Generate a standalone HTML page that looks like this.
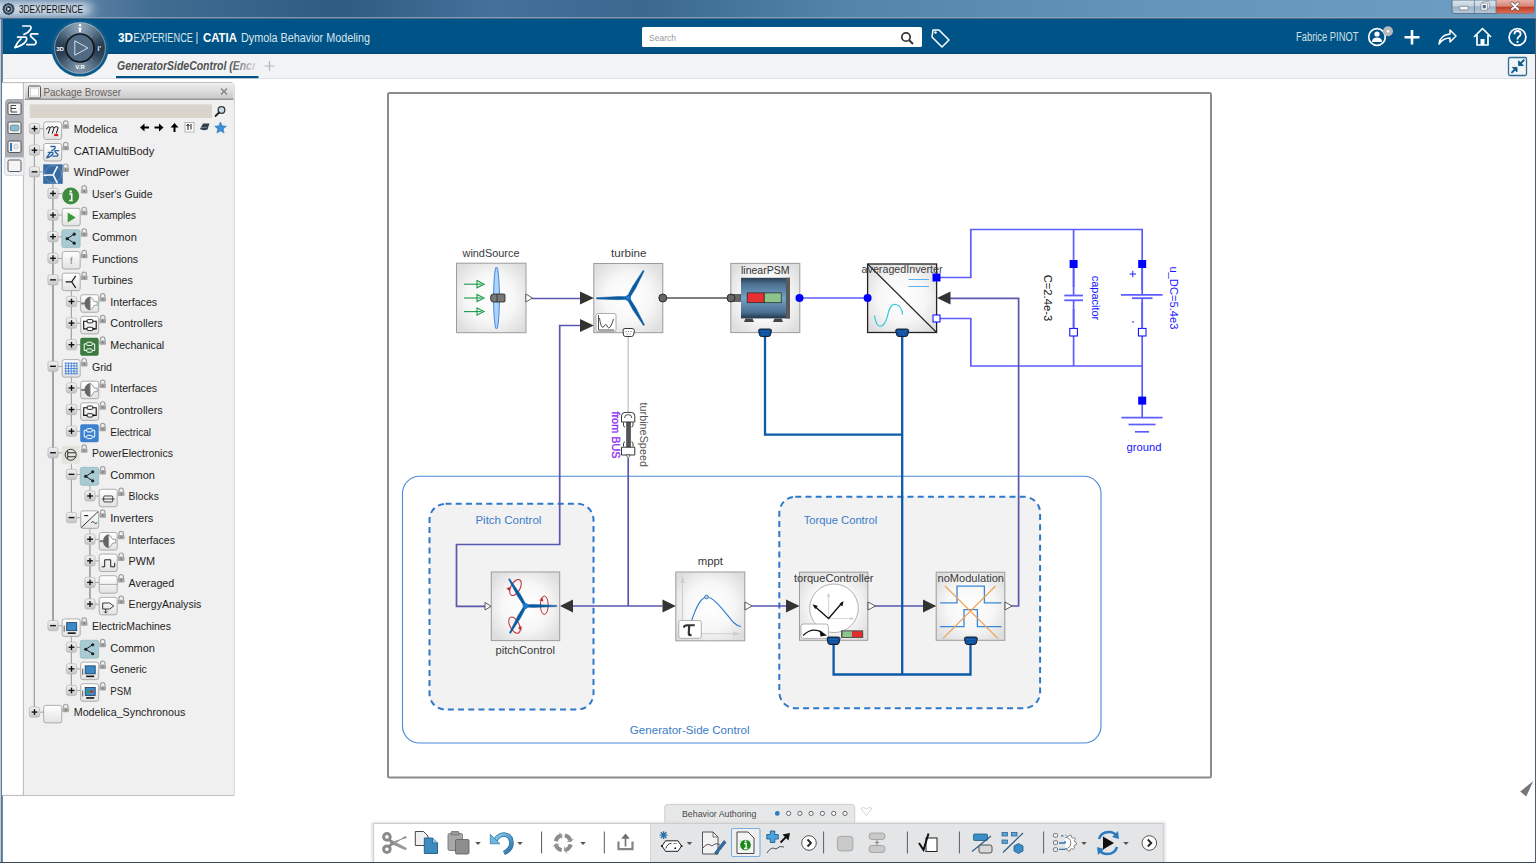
<!DOCTYPE html>
<html><head><meta charset="utf-8"><title>3DEXPERIENCE</title>
<style>html,body{margin:0;padding:0;width:1536px;height:863px;overflow:hidden;background:#fff}svg{display:block}</style></head>
<body><svg width="1536" height="863" viewBox="0 0 1536 863">
<defs>
<linearGradient id="gTitle" x1="0" y1="0" x2="1" y2="0">
 <stop offset="0" stop-color="#7896b4"/>
 <stop offset="0.05" stop-color="#5e82a6"/>
 <stop offset="0.1" stop-color="#416c92"/>
 <stop offset="0.22" stop-color="#2f5b82"/>
 <stop offset="0.32" stop-color="#44709a"/>
 <stop offset="0.42" stop-color="#3a688f"/>
 <stop offset="0.55" stop-color="#5584ab"/>
 <stop offset="0.75" stop-color="#6594bb"/>
 <stop offset="1" stop-color="#6d9ec4"/>
</linearGradient>
<linearGradient id="gPBHead" x1="0" y1="0" x2="0" y2="1">
 <stop offset="0" stop-color="#ececec"/><stop offset="1" stop-color="#c9c9c9"/>
</linearGradient>
<linearGradient id="gPlus" x1="0" y1="0" x2="0" y2="1">
 <stop offset="0" stop-color="#f4f4f4"/><stop offset="1" stop-color="#c4c4c4"/>
</linearGradient>
<linearGradient id="gIcon" x1="0" y1="0" x2="0" y2="1">
 <stop offset="0" stop-color="#ffffff"/><stop offset="1" stop-color="#e2e2e2"/>
</linearGradient>
<radialGradient id="gComp" cx="0.5" cy="0.5" r="0.5">
 <stop offset="0" stop-color="#ffffff"/><stop offset="0.7" stop-color="#f6f6f6"/><stop offset="1" stop-color="#e3e3e3"/>
</radialGradient>
<radialGradient id="gCompass" cx="0.4" cy="0.3" r="0.7">
 <stop offset="0" stop-color="#aabdd0"/><stop offset="0.5" stop-color="#4d6781"/><stop offset="1" stop-color="#1e3248"/>
</radialGradient>
<linearGradient id="gMotor" x1="0" y1="0" x2="0" y2="1">
 <stop offset="0" stop-color="#2a3e52"/><stop offset="0.15" stop-color="#4a6f90"/><stop offset="0.5" stop-color="#74a3c8"/><stop offset="0.85" stop-color="#4a6f90"/><stop offset="1" stop-color="#22364a"/>
</linearGradient>
</defs>
<rect x="0" y="0" width="1536" height="863" fill="#ffffff"/>
<rect x="0" y="0" width="1536" height="19" fill="url(#gTitle)"/>
<defs><filter id="fBlur4" x="-50%" y="-100%" width="200%" height="300%"><feGaussianBlur stdDeviation="6 3"/></filter></defs>
<rect x="-10" y="2" width="100" height="14" fill="#c8d6e4" filter="url(#fBlur4)"/>
<rect x="0" y="17" width="1536" height="1" fill="#8fa8bf" opacity="0.8"/>
<rect x="0" y="18" width="1536" height="1" fill="#4d6b86"/>
<circle cx="8.5" cy="9" r="6.2" fill="#33475c" stroke="#c8d6e2" stroke-width="0.8" stroke-dasharray="2 1.2"/><circle cx="8.5" cy="9" r="3.4" fill="#1c2a38" stroke="#e0e8ee" stroke-width="0.7"/><path d="M7.4 7.2 L10.4 9 L7.4 10.8 Z" fill="#e8eef4"/>
<text x="19" y="13" font-family='"Liberation Sans", sans-serif' font-size="10.5" fill="#111" textLength="64" lengthAdjust="spacingAndGlyphs">3DEXPERIENCE</text>
<defs><linearGradient id="gWB" x1="0" y1="0" x2="0" y2="1"><stop offset="0" stop-color="#dbe6ef"/><stop offset="0.45" stop-color="#c4d3e0"/><stop offset="0.5" stop-color="#9db2c6"/><stop offset="1" stop-color="#b9cad9"/></linearGradient><linearGradient id="gWC" x1="0" y1="0" x2="0" y2="1"><stop offset="0" stop-color="#eab0a8"/><stop offset="0.45" stop-color="#d8877a"/><stop offset="0.55" stop-color="#c23e28"/><stop offset="1" stop-color="#d8705a"/></linearGradient></defs>
<path d="M1452 0 V11 Q1452 13.5 1454.5 13.5 H1531.5 Q1534 13.5 1534 11 V0 Z" fill="url(#gWB)" stroke="#4e6378" stroke-width="0.8"/>
<path d="M1496 0 V13.5 H1531.5 Q1534 13.5 1534 11 V0 Z" fill="url(#gWC)"/>
<path d="M1474.4 0 V13.5 M1496 0 V13.5" stroke="#5a6e82" stroke-width="0.7"/>
<rect x="1459.6" y="6.3" width="8.6" height="3.6" rx="1" fill="#fafafa" stroke="#4a5a6a" stroke-width="0.6"/>
<rect x="1483" y="1.7" width="6.2" height="6.5" rx="0.6" fill="#fafafa" stroke="#4a5a6a" stroke-width="0.5"/><rect x="1481" y="3.2" width="6.5" height="7" rx="0.6" fill="#fafafa" stroke="#4a5a6a" stroke-width="0.5"/><rect x="1482.7" y="5" width="3.2" height="3.3" fill="#5a7088"/>
<path d="M1512 3.2 L1518 9.2 M1518 3.2 L1512 9.2" stroke="#555" stroke-width="3.2" stroke-linecap="round"/><path d="M1512 3.2 L1518 9.2 M1518 3.2 L1512 9.2" stroke="#fafafa" stroke-width="2" stroke-linecap="round"/>
<rect x="2" y="19" width="1533" height="35" fill="#005386"/>
<rect x="2" y="52.6" width="1533" height="1.4" fill="#004a78"/>
<rect x="2" y="54" width="1533" height="24.5" fill="#f2f3f5"/>
<rect x="2" y="78" width="1533" height="1" fill="#dfe1e4"/>
<rect x="0" y="19" width="1" height="844" fill="#b9cadb"/>
<rect x="1" y="19" width="1.9" height="844" fill="#5f7a93"/>
<rect x="1535" y="19" width="1" height="844" fill="#4b5d6e"/>
<rect x="0" y="862" width="1536" height="1" fill="#3b4957"/>
<g fill="none" stroke="#fff" stroke-width="1.7" stroke-linecap="round" stroke-linejoin="round"><path d="M22.8 26 H29.8 Q31.8 26.6 30.6 29.2 Q28.6 32.6 24 34.4" /><path d="M17.6 37.2 H25.2 Q27.6 37.6 26.2 40.8 Q23.4 45.6 14.8 47.6 Q17.2 42.2 21 38.9"/><path d="M37.8 33.9 H31.6 Q29.8 34.4 31 36.6 L35.4 40.6 Q37.2 43.2 34.6 44.6 H26.8"/></g>
<circle cx="80" cy="48" r="28.6" fill="#0e5a8b"/>
<defs><filter id="fCmp"><feGaussianBlur stdDeviation="0.9"/></filter><clipPath id="cRing"><circle cx="80" cy="48" r="25.6"/></clipPath></defs>
<g clip-path="url(#cRing)"><g filter="url(#fCmp)"><path d="M80 48 L80.00 21.00 L83.52 21.23 Z" fill="rgb(144, 163, 181)"/><path d="M80 48 L83.52 21.23 L86.99 21.92 Z" fill="rgb(141, 159, 177)"/><path d="M80 48 L86.99 21.92 L90.33 23.06 Z" fill="rgb(134, 153, 171)"/><path d="M80 48 L90.33 23.06 L93.50 24.62 Z" fill="rgb(125, 144, 162)"/><path d="M80 48 L93.50 24.62 L96.44 26.58 Z" fill="rgb(113, 132, 151)"/><path d="M80 48 L96.44 26.58 L99.09 28.91 Z" fill="rgb(101, 120, 139)"/><path d="M80 48 L99.09 28.91 L101.42 31.56 Z" fill="rgb(87, 106, 126)"/><path d="M80 48 L101.42 31.56 L103.38 34.50 Z" fill="rgb(74, 94, 114)"/><path d="M80 48 L103.38 34.50 L104.94 37.67 Z" fill="rgb(62, 82, 102)"/><path d="M80 48 L104.94 37.67 L106.08 41.01 Z" fill="rgb(52, 72, 93)"/><path d="M80 48 L106.08 41.01 L106.77 44.48 Z" fill="rgb(45, 64, 86)"/><path d="M80 48 L106.77 44.48 L107.00 48.00 Z" fill="rgb(40, 60, 82)"/><path d="M80 48 L107.00 48.00 L106.77 51.52 Z" fill="rgb(39, 59, 80)"/><path d="M80 48 L106.77 51.52 L106.08 54.99 Z" fill="rgb(41, 61, 82)"/><path d="M80 48 L106.08 54.99 L104.94 58.33 Z" fill="rgb(46, 66, 87)"/><path d="M80 48 L104.94 58.33 L103.38 61.50 Z" fill="rgb(54, 73, 94)"/><path d="M80 48 L103.38 61.50 L101.42 64.44 Z" fill="rgb(63, 83, 104)"/><path d="M80 48 L101.42 64.44 L99.09 67.09 Z" fill="rgb(75, 94, 114)"/><path d="M80 48 L99.09 67.09 L96.44 69.42 Z" fill="rgb(86, 105, 125)"/><path d="M80 48 L96.44 69.42 L93.50 71.38 Z" fill="rgb(97, 117, 136)"/><path d="M80 48 L93.50 71.38 L90.33 72.94 Z" fill="rgb(108, 127, 146)"/><path d="M80 48 L90.33 72.94 L86.99 74.08 Z" fill="rgb(116, 135, 154)"/><path d="M80 48 L86.99 74.08 L83.52 74.77 Z" fill="rgb(122, 141, 159)"/><path d="M80 48 L83.52 74.77 L80.00 75.00 Z" fill="rgb(125, 144, 162)"/><path d="M80 48 L80.00 75.00 L76.48 74.77 Z" fill="rgb(125, 144, 162)"/><path d="M80 48 L76.48 74.77 L73.01 74.08 Z" fill="rgb(122, 141, 159)"/><path d="M80 48 L73.01 74.08 L69.67 72.94 Z" fill="rgb(116, 135, 154)"/><path d="M80 48 L69.67 72.94 L66.50 71.38 Z" fill="rgb(108, 127, 146)"/><path d="M80 48 L66.50 71.38 L63.56 69.42 Z" fill="rgb(97, 117, 136)"/><path d="M80 48 L63.56 69.42 L60.91 67.09 Z" fill="rgb(86, 105, 125)"/><path d="M80 48 L60.91 67.09 L58.58 64.44 Z" fill="rgb(75, 94, 114)"/><path d="M80 48 L58.58 64.44 L56.62 61.50 Z" fill="rgb(63, 83, 104)"/><path d="M80 48 L56.62 61.50 L55.06 58.33 Z" fill="rgb(54, 73, 94)"/><path d="M80 48 L55.06 58.33 L53.92 54.99 Z" fill="rgb(46, 66, 87)"/><path d="M80 48 L53.92 54.99 L53.23 51.52 Z" fill="rgb(41, 61, 82)"/><path d="M80 48 L53.23 51.52 L53.00 48.00 Z" fill="rgb(39, 59, 80)"/><path d="M80 48 L53.00 48.00 L53.23 44.48 Z" fill="rgb(40, 60, 82)"/><path d="M80 48 L53.23 44.48 L53.92 41.01 Z" fill="rgb(45, 64, 86)"/><path d="M80 48 L53.92 41.01 L55.06 37.67 Z" fill="rgb(52, 72, 93)"/><path d="M80 48 L55.06 37.67 L56.62 34.50 Z" fill="rgb(62, 82, 102)"/><path d="M80 48 L56.62 34.50 L58.58 31.56 Z" fill="rgb(74, 94, 114)"/><path d="M80 48 L58.58 31.56 L60.91 28.91 Z" fill="rgb(87, 106, 126)"/><path d="M80 48 L60.91 28.91 L63.56 26.58 Z" fill="rgb(101, 120, 139)"/><path d="M80 48 L63.56 26.58 L66.50 24.62 Z" fill="rgb(113, 132, 151)"/><path d="M80 48 L66.50 24.62 L69.67 23.06 Z" fill="rgb(125, 144, 162)"/><path d="M80 48 L69.67 23.06 L73.01 21.92 Z" fill="rgb(134, 153, 171)"/><path d="M80 48 L73.01 21.92 L76.48 21.23 Z" fill="rgb(141, 159, 177)"/><path d="M80 48 L76.48 21.23 L80.00 21.00 Z" fill="rgb(144, 163, 181)"/></g></g>
<circle cx="80" cy="48" r="25.4" fill="none" stroke="#c8d6e2" stroke-width="0.7" opacity="0.8"/>
<path d="M67.5 35.5 L70.5 38.5 M92.5 35.5 L89.5 38.5 M67.5 60.5 L70.5 57.5 M92.5 60.5 L89.5 57.5" stroke="#c0d0dc" stroke-width="0.6" opacity="0.6"/>
<circle cx="80" cy="48" r="14" fill="#506a84" stroke="#151515" stroke-width="1.7"/>
<path d="M74.8 40.8 L87.8 48 L74.8 55.2 Z" fill="none" stroke="#e8eef4" stroke-width="0.9"/>
<text x="60" y="50.5" font-family='"Liberation Sans", sans-serif' font-size="6" font-weight="bold" fill="#fff" text-anchor="middle">3D</text>
<text x="80" y="69" font-family='"Liberation Sans", sans-serif' font-size="6" font-weight="bold" fill="#fff" text-anchor="middle">V.R</text>
<text x="99.3" y="51" font-family='"Liberation Sans", sans-serif' font-size="6.5" font-weight="bold" fill="#fff" text-anchor="middle">i'</text>
<circle cx="80" cy="25.2" r="1.3" fill="#fff"/><path d="M77.5 27.8 H82.5 L81 29 V32 H79 V29 Z" fill="#fff"/>
<text x="118" y="41.8" font-family='"Liberation Sans", sans-serif' font-size="12" fill="#ffffff" font-weight="bold" font-style="normal" text-anchor="start" textLength="15" lengthAdjust="spacingAndGlyphs" >3D</text>
<text x="133.5" y="41.8" font-family='"Liberation Sans", sans-serif' font-size="12" fill="#d9e5ef" font-weight="normal" font-style="normal" text-anchor="start" textLength="59.5" lengthAdjust="spacingAndGlyphs" >EXPERIENCE</text>
<rect x="196.5" y="32" width="1" height="12" fill="#d9e5ef"/>
<text x="203" y="41.8" font-family='"Liberation Sans", sans-serif' font-size="12" fill="#ffffff" font-weight="bold" font-style="normal" text-anchor="start" textLength="34" lengthAdjust="spacingAndGlyphs" >CATIA</text>
<text x="241" y="41.8" font-family='"Liberation Sans", sans-serif' font-size="12" fill="#d9e5ef" font-weight="normal" font-style="normal" text-anchor="start" textLength="129" lengthAdjust="spacingAndGlyphs" >Dymola Behavior Modeling</text>
<rect x="642" y="27" width="280" height="20" rx="1.5" fill="#ffffff"/>
<text x="649" y="40.5" font-family='"Liberation Sans", sans-serif' font-size="9" fill="#9a9a9a" font-weight="normal" font-style="normal" text-anchor="start" textLength="27" lengthAdjust="spacingAndGlyphs" >Search</text>
<circle cx="906" cy="37" r="4.2" fill="none" stroke="#333" stroke-width="1.7"/><path d="M909 40 L913 44" stroke="#333" stroke-width="2"/>
<path d="M933 30 L939 30 L949 40 L942 47 L932 37 Z" fill="none" stroke="#fff" stroke-width="1.5" stroke-linejoin="round"/><circle cx="935.5" cy="32.5" r="1.2" fill="#fff"/>
<text x="1296" y="40.8" font-family='"Liberation Sans", sans-serif' font-size="12" fill="#d2e0ea" font-weight="normal" font-style="normal" text-anchor="start" textLength="62.5" lengthAdjust="spacingAndGlyphs" >Fabrice PINOT</text>
<circle cx="1377" cy="37" r="8.3" fill="none" stroke="#fff" stroke-width="1.7"/>
<circle cx="1377" cy="34" r="2.6" fill="#fff"/><path d="M1372 42 Q1372 37.5 1377 37.5 Q1382 37.5 1382 42 Z" fill="#fff"/>
<circle cx="1388" cy="31.2" r="5" fill="#b5b9bd"/><circle cx="1388" cy="31.2" r="1.2" fill="#fff"/>
<path d="M1412 30 V44.5 M1404.5 37.2 H1419.5" stroke="#fff" stroke-width="2.6"/>
<path d="M1439 44 Q1440 35 1450 34 L1450 30 L1456 36 L1450 42 L1450 38 Q1443 38 1439 44 Z" fill="none" stroke="#fff" stroke-width="1.5" stroke-linejoin="round"/>
<path d="M1474 37 L1482.5 28.5 L1491 37 M1477 35 V45 H1488 V35" fill="none" stroke="#fff" stroke-width="1.7" stroke-linejoin="round"/><rect x="1480.5" y="39" width="4" height="6" fill="#fff"/>
<circle cx="1517.5" cy="37" r="8.4" fill="none" stroke="#fff" stroke-width="1.7"/>
<path d="M1514.4 34.2 Q1514.4 31 1517.5 31 Q1520.6 31 1520.6 34 Q1520.6 35.8 1518.8 36.7 Q1517.5 37.4 1517.5 39 V39.4" fill="none" stroke="#fff" stroke-width="1.8"/><circle cx="1517.5" cy="41.9" r="1.1" fill="#fff"/>
<text x="117" y="70" font-family='"Liberation Sans", sans-serif' font-size="12" fill="#505050" font-weight="bold" font-style="italic" text-anchor="start" textLength="139" lengthAdjust="spacingAndGlyphs" >GeneratorSideControl (Encr</text>
<rect x="230" y="55" width="30" height="22" fill="url(#gFade)"/>
<rect x="116" y="76" width="142.5" height="2.2" fill="#005386"/>
<path d="M269.5 61 V71 M264.5 66 H274.5" stroke="#b7b7b7" stroke-width="1.2"/>
<rect x="1508.5" y="57.5" width="18" height="18" rx="1.5" fill="none" stroke="#2a6e9e" stroke-width="1.3"/>
<path d="M1523.8 60.2 L1520.5 63.5" stroke="#0e5a8e" stroke-width="1.9" stroke-linecap="round"/><path d="M1518.6 60.8 V65.6 H1523.4 Z" fill="#0e5a8e" stroke="#0e5a8e" stroke-width="0.9" stroke-linejoin="round"/>
<path d="M1512 72.3 L1515 69.3" stroke="#0e5a8e" stroke-width="1.9" stroke-linecap="round"/><path d="M1512.4 67.4 H1517 V72 Z" fill="#0e5a8e" stroke="#0e5a8e" stroke-width="0.9" stroke-linejoin="round"/>
<path d="M16 433 L11 438.5 L16 444" fill="none" stroke="#b8bcc2" stroke-width="1.6"/>
<path d="M2 82.6 H231.2 Q234 82.6 234 85.4 V795.4 H2" fill="#fff" stroke="#b0b0b0" stroke-width="0.9"/>
<rect x="23.8" y="83" width="210" height="712" fill="#f0f0f0"/>
<rect x="22.9" y="82.6" width="0.9" height="712.8" fill="#b0b0b0"/>
<path d="M24.8 99 V84.2 H231.5 Q233.5 84.2 233.5 86 V99 Z" fill="url(#gPBHead)"/>
<rect x="24.8" y="98.6" width="208.7" height="1.3" fill="#8c8c8c"/>
<rect x="28.5" y="86" width="12" height="12" rx="1.2" fill="#f2f2f2" stroke="#555" stroke-width="1"/>
<rect x="30.5" y="88" width="8" height="8" fill="#fff" stroke="#bbb" stroke-width="0.6"/>
<text x="43.5" y="95.8" font-family='"Liberation Sans", sans-serif' font-size="11" fill="#6a625c" font-weight="normal" font-style="normal" text-anchor="start" textLength="77.5" lengthAdjust="spacingAndGlyphs" >Package Browser</text>
<path d="M221 88.5 L227 94.5 M227 88.5 L221 94.5" stroke="#7a7a7a" stroke-width="1.1"/>
<rect x="29.7" y="104.4" width="182.3" height="13.6" fill="#d9d5cc"/>
<circle cx="221.5" cy="110" r="3.3" fill="#c9dbe8" stroke="#333" stroke-width="1.3"/><path d="M219 112.5 L215.5 116" stroke="#222" stroke-width="1.8" stroke-linecap="round"/>
<path d="M5 103 Q5 99 9 99 L23.5 99 L23.5 157.5 L5 157.5 Z" fill="#a9adb3"/>
<path d="M4.5 157.5 L24 157.5 L24 175.5 L7 175.5 Q4.5 175.5 4.5 173 Z" fill="#eef0f4" stroke="#c4c8ce" stroke-width="0.6"/>
<rect x="8" y="103" width="13" height="11.5" rx="1.5" fill="#f4f4f4" stroke="#4a4a4a" stroke-width="0.9"/>
<path d="M11 105.5 V112 H17 M11 108.5 H16 M11 105.5 H16" stroke="#333" stroke-width="0.9" fill="none"/>
<rect x="8" y="122" width="13" height="11.5" rx="1.5" fill="#f4f4f4" stroke="#4a4a4a" stroke-width="0.9"/>
<rect x="10" y="125" width="9" height="6" rx="2" fill="#8fb8cc" stroke="#4a7a90" stroke-width="0.6"/>
<rect x="8" y="141" width="13" height="11.5" rx="1.5" fill="#f4f4f4" stroke="#4a4a4a" stroke-width="0.9"/>
<rect x="10" y="143" width="2" height="8" fill="#2f7ab8"/><circle cx="16" cy="146.5" r="2" fill="none" stroke="#999" stroke-width="0.6"/>
<rect x="8" y="160" width="13" height="11.5" rx="1.5" fill="#f4f4f4" stroke="#4a4a4a" stroke-width="0.9"/>
<path d="M149.0 127.5 H143.5" stroke="#000" stroke-width="2"/><path d="M140.0 127.5 L144.5 123.5 L144.5 131.5 Z" fill="#000"/>
<path d="M154.5 127.5 H160" stroke="#000" stroke-width="2"/><path d="M163.5 127.5 L159 123.5 L159 131.5 Z" fill="#000"/>
<path d="M174.5 132.0 V126.5" stroke="#000" stroke-width="2"/><path d="M174.5 123.0 L170.5 127.5 L178.5 127.5 Z" fill="#000"/>
<rect x="185" y="122.5" width="9" height="9.5" fill="#fff" stroke="#9a9a9a" stroke-width="0.7"/><path d="M188 130 V124.5 M186.5 126 L188 124.2 L189.5 126 M191 124 V129.5" stroke="#000" stroke-width="0.9" fill="none"/>
<path d="M200 129 L203 123.5 H209.5 L207.5 129.5 Q203 131 200 129 Z" fill="#33414f"/><path d="M201 127.5 H207" stroke="#8aa" stroke-width="0.6"/>
<path d="M220.5 122 L222.2 125.8 L226.3 126.2 L223.2 128.9 L224.1 133 L220.5 130.9 L216.9 133 L217.8 128.9 L214.7 126.2 L218.8 125.8 Z" fill="#3a8fd8" stroke="#2a6aa8" stroke-width="0.5"/>
<rect x="33.9" y="128.7" width="1" height="583.47" fill="#a3a3a3"/>
<rect x="33.9" y="150.31" width="1" height="561.8600000000001" fill="#a3a3a3"/>
<rect x="33.9" y="171.92" width="1" height="540.2500000000001" fill="#a3a3a3"/>
<rect x="52.4" y="179.92" width="1" height="445.81000000000006" fill="#a3a3a3"/>
<rect x="52.4" y="193.52999999999997" width="1" height="432.20000000000005" fill="#a3a3a3"/>
<rect x="52.4" y="215.14" width="1" height="410.59000000000003" fill="#a3a3a3"/>
<rect x="52.4" y="236.75" width="1" height="388.98" fill="#a3a3a3"/>
<rect x="52.4" y="258.36" width="1" height="367.37" fill="#a3a3a3"/>
<rect x="52.4" y="279.96999999999997" width="1" height="345.76000000000005" fill="#a3a3a3"/>
<rect x="70.9" y="287.96999999999997" width="1" height="56.829999999999984" fill="#a3a3a3"/>
<rect x="70.9" y="301.58" width="1" height="43.21999999999997" fill="#a3a3a3"/>
<rect x="70.9" y="323.19" width="1" height="21.609999999999957" fill="#a3a3a3"/>
<rect x="52.4" y="366.40999999999997" width="1" height="259.32000000000005" fill="#a3a3a3"/>
<rect x="70.9" y="374.40999999999997" width="1" height="56.829999999999984" fill="#a3a3a3"/>
<rect x="70.9" y="388.02" width="1" height="43.21999999999997" fill="#a3a3a3"/>
<rect x="70.9" y="409.63" width="1" height="21.609999999999957" fill="#a3a3a3"/>
<rect x="52.4" y="452.84999999999997" width="1" height="172.88000000000005" fill="#a3a3a3"/>
<rect x="70.9" y="460.84999999999997" width="1" height="56.8300000000001" fill="#a3a3a3"/>
<rect x="70.9" y="474.46" width="1" height="43.220000000000084" fill="#a3a3a3"/>
<rect x="89.4" y="482.46" width="1" height="13.610000000000014" fill="#a3a3a3"/>
<rect x="89.4" y="525.6800000000001" width="1" height="78.43999999999983" fill="#a3a3a3"/>
<rect x="89.4" y="539.29" width="1" height="64.82999999999993" fill="#a3a3a3"/>
<rect x="89.4" y="560.9" width="1" height="43.219999999999914" fill="#a3a3a3"/>
<rect x="89.4" y="582.51" width="1" height="21.6099999999999" fill="#a3a3a3"/>
<rect x="70.9" y="633.73" width="1" height="56.82999999999993" fill="#a3a3a3"/>
<rect x="70.9" y="647.3399999999999" width="1" height="43.22000000000003" fill="#a3a3a3"/>
<rect x="70.9" y="668.95" width="1" height="21.6099999999999" fill="#a3a3a3"/>
<rect x="39.4" y="128.2" width="4" height="1" fill="#a3a3a3"/>
<rect x="29.4" y="123.49999999999999" width="10.2" height="10.2" rx="2" fill="url(#gPlus)" stroke="#b3b3b3" stroke-width="0.7"/>
<path d="M31.599999999999998 128.6 H37.4" stroke="#111" stroke-width="1.35"/>
<path d="M34.5 125.69999999999999 V131.5" stroke="#111" stroke-width="1.35"/>
<rect x="43.7" y="121.89999999999999" width="18" height="17.5" rx="2.2" fill="url(#gIcon)" stroke="#9b9b9b" stroke-width="0.8"/>
<path d="M46.2 129.6 Q48.2 125.6 50.2 127.6 L48.2 133.6 M50.2 127.6 Q52.2 125.6 54.2 127.6 L52.2 133.6 M54.2 127.6 Q56.2 125.6 58.2 127.6 L56.2 133.6" stroke="#111" stroke-width="1" fill="none"/>
<rect x="54.2" y="134.1" width="4" height="2" fill="#d11"/>
<path d="M63.5 124.29999999999998 V122.79999999999998 Q63.5 120.79999999999998 65.7 120.79999999999998 Q67.9 120.79999999999998 67.9 122.79999999999998 V124.29999999999998" stroke="#a0a0a0" stroke-width="1.2" fill="none"/>
<rect x="62.4" y="124.29999999999998" width="6.6" height="4.4" rx="0.8" fill="#a6a6a6"/><rect x="65.1" y="125.59999999999998" width="1.3" height="1.8" fill="#777"/>
<text x="73.7" y="133.0" font-family='"Liberation Sans", sans-serif' font-size="11" fill="#1e1e1e" font-weight="normal" font-style="normal" text-anchor="start" textLength="43.6" lengthAdjust="spacingAndGlyphs" >Modelica</text>
<rect x="39.4" y="149.81" width="4" height="1" fill="#a3a3a3"/>
<rect x="29.4" y="145.11" width="10.2" height="10.2" rx="2" fill="url(#gPlus)" stroke="#b3b3b3" stroke-width="0.7"/>
<path d="M31.599999999999998 150.21 H37.4" stroke="#111" stroke-width="1.35"/>
<path d="M34.5 147.31 V153.11" stroke="#111" stroke-width="1.35"/>
<rect x="43.7" y="143.51000000000002" width="18" height="17.5" rx="2.2" fill="url(#gIcon)" stroke="#9b9b9b" stroke-width="0.8"/>
<g transform="translate(39.08,132.97) scale(0.52)" fill="none" stroke="#2d62a6" stroke-width="2.6" stroke-linecap="round" stroke-linejoin="round"><path d="M22.8 26 H29.8 Q31.8 26.6 30.6 29.2 Q28.6 32.6 24 34.4" /><path d="M17.6 37.2 H25.2 Q27.6 37.6 26.2 40.8 Q23.4 45.6 14.8 47.6 Q17.2 42.2 21 38.9"/><path d="M37.8 33.9 H31.6 Q29.8 34.4 31 36.6 L35.4 40.6 Q37.2 43.2 34.6 44.6 H26.8"/></g>
<path d="M63.5 145.91 V144.41 Q63.5 142.41 65.7 142.41 Q67.9 142.41 67.9 144.41 V145.91" stroke="#a0a0a0" stroke-width="1.2" fill="none"/>
<rect x="62.4" y="145.91" width="6.6" height="4.4" rx="0.8" fill="#a6a6a6"/><rect x="65.1" y="147.21" width="1.3" height="1.8" fill="#777"/>
<text x="73.7" y="154.61" font-family='"Liberation Sans", sans-serif' font-size="11" fill="#1e1e1e" font-weight="normal" font-style="normal" text-anchor="start" textLength="80.6" lengthAdjust="spacingAndGlyphs" >CATIAMultiBody</text>
<rect x="39.4" y="171.42" width="4" height="1" fill="#a3a3a3"/>
<rect x="29.4" y="166.72" width="10.2" height="10.2" rx="2" fill="url(#gPlus)" stroke="#b3b3b3" stroke-width="0.7"/>
<path d="M31.599999999999998 171.82 H37.4" stroke="#111" stroke-width="1.35"/>
<rect x="43.2" y="164.32" width="19.5" height="19.5" fill="#356aa3"/>
<circle cx="53.0" cy="174.12" r="8.5" fill="none" stroke="#7ea4cc" stroke-width="0.6"/>
<path d="M53.2 174.82 L57.2 166.82 M53.2 174.82 L44.2 175.32 M53.2 174.82 L57.2 182.82" stroke="#fff" stroke-width="1.5" stroke-linecap="round"/>
<path d="M63.5 167.51999999999998 V166.01999999999998 Q63.5 164.01999999999998 65.7 164.01999999999998 Q67.9 164.01999999999998 67.9 166.01999999999998 V167.51999999999998" stroke="#a0a0a0" stroke-width="1.2" fill="none"/>
<rect x="62.4" y="167.51999999999998" width="6.6" height="4.4" rx="0.8" fill="#a6a6a6"/><rect x="65.1" y="168.82" width="1.3" height="1.8" fill="#777"/>
<text x="73.7" y="176.22" font-family='"Liberation Sans", sans-serif' font-size="11" fill="#1e1e1e" font-weight="normal" font-style="normal" text-anchor="start" textLength="55.7" lengthAdjust="spacingAndGlyphs" >WindPower</text>
<rect x="57.9" y="193.02999999999997" width="4" height="1" fill="#a3a3a3"/>
<rect x="47.9" y="188.32999999999998" width="10.2" height="10.2" rx="2" fill="url(#gPlus)" stroke="#b3b3b3" stroke-width="0.7"/>
<path d="M50.1 193.42999999999998 H55.9" stroke="#111" stroke-width="1.35"/>
<path d="M53.0 190.52999999999997 V196.32999999999998" stroke="#111" stroke-width="1.35"/>
<circle cx="70.7" cy="195.92999999999998" r="8.5" fill="#3f8c3f"/>
<circle cx="70.7" cy="191.42999999999998" r="1.2" fill="#fff"/><path d="M69.2 193.92999999999998 H71.7 V200.42999999999998 M69.2 200.42999999999998 H72.7" stroke="#fff" stroke-width="1.6" fill="none"/>
<path d="M82.0 189.12999999999997 V187.62999999999997 Q82.0 185.62999999999997 84.2 185.62999999999997 Q86.4 185.62999999999997 86.4 187.62999999999997 V189.12999999999997" stroke="#a0a0a0" stroke-width="1.2" fill="none"/>
<rect x="80.9" y="189.12999999999997" width="6.6" height="4.4" rx="0.8" fill="#a6a6a6"/><rect x="83.6" y="190.42999999999998" width="1.3" height="1.8" fill="#777"/>
<text x="92.0" y="197.82999999999998" font-family='"Liberation Sans", sans-serif' font-size="11" fill="#1e1e1e" font-weight="normal" font-style="normal" text-anchor="start" textLength="60.6" lengthAdjust="spacingAndGlyphs" >User's Guide</text>
<rect x="57.9" y="214.64" width="4" height="1" fill="#a3a3a3"/>
<rect x="47.9" y="209.94" width="10.2" height="10.2" rx="2" fill="url(#gPlus)" stroke="#b3b3b3" stroke-width="0.7"/>
<path d="M50.1 215.04 H55.9" stroke="#111" stroke-width="1.35"/>
<path d="M53.0 212.14 V217.94" stroke="#111" stroke-width="1.35"/>
<rect x="62.2" y="208.34" width="18" height="17.5" rx="2.2" fill="url(#gIcon)" stroke="#9b9b9b" stroke-width="0.8"/>
<path d="M67.7 212.54 L75.7 217.54 L67.7 222.54 Z" fill="#3c9a3c"/>
<path d="M82.0 210.73999999999998 V209.23999999999998 Q82.0 207.23999999999998 84.2 207.23999999999998 Q86.4 207.23999999999998 86.4 209.23999999999998 V210.73999999999998" stroke="#a0a0a0" stroke-width="1.2" fill="none"/>
<rect x="80.9" y="210.73999999999998" width="6.6" height="4.4" rx="0.8" fill="#a6a6a6"/><rect x="83.6" y="212.04" width="1.3" height="1.8" fill="#777"/>
<text x="92.0" y="219.44" font-family='"Liberation Sans", sans-serif' font-size="11" fill="#1e1e1e" font-weight="normal" font-style="normal" text-anchor="start" textLength="43.9" lengthAdjust="spacingAndGlyphs" >Examples</text>
<rect x="57.9" y="236.25" width="4" height="1" fill="#a3a3a3"/>
<rect x="47.9" y="231.55" width="10.2" height="10.2" rx="2" fill="url(#gPlus)" stroke="#b3b3b3" stroke-width="0.7"/>
<path d="M50.1 236.65 H55.9" stroke="#111" stroke-width="1.35"/>
<path d="M53.0 233.75 V239.55" stroke="#111" stroke-width="1.35"/>
<rect x="61.7" y="229.65" width="18.5" height="18" rx="2" fill="#a8cad2" stroke="#8fb0b8" stroke-width="0.6"/>
<path d="M74.2 234.15 L67.2 238.65 L74.2 243.15" stroke="#222" stroke-width="1" fill="none"/>
<circle cx="74.2" cy="234.15" r="1.6" fill="#222"/><circle cx="67.2" cy="238.65" r="1.6" fill="#222"/><circle cx="74.2" cy="243.15" r="1.6" fill="#222"/>
<path d="M82.0 232.35 V230.85 Q82.0 228.85 84.2 228.85 Q86.4 228.85 86.4 230.85 V232.35" stroke="#a0a0a0" stroke-width="1.2" fill="none"/>
<rect x="80.9" y="232.35" width="6.6" height="4.4" rx="0.8" fill="#a6a6a6"/><rect x="83.6" y="233.65" width="1.3" height="1.8" fill="#777"/>
<text x="92.0" y="241.05" font-family='"Liberation Sans", sans-serif' font-size="11" fill="#1e1e1e" font-weight="normal" font-style="normal" text-anchor="start" textLength="44.9" lengthAdjust="spacingAndGlyphs" >Common</text>
<rect x="57.9" y="257.86" width="4" height="1" fill="#a3a3a3"/>
<rect x="47.9" y="253.16000000000003" width="10.2" height="10.2" rx="2" fill="url(#gPlus)" stroke="#b3b3b3" stroke-width="0.7"/>
<path d="M50.1 258.26 H55.9" stroke="#111" stroke-width="1.35"/>
<path d="M53.0 255.36 V261.16" stroke="#111" stroke-width="1.35"/>
<rect x="62.2" y="251.56000000000003" width="18" height="17.5" rx="2.2" fill="url(#gIcon)" stroke="#9b9b9b" stroke-width="0.8"/>
<text x="71.2" y="264.26" font-family='"Liberation Sans", sans-serif' font-size="9" fill="#777" text-anchor="middle">f</text>
<path d="M82.0 253.96 V252.46 Q82.0 250.46 84.2 250.46 Q86.4 250.46 86.4 252.46 V253.96" stroke="#a0a0a0" stroke-width="1.2" fill="none"/>
<rect x="80.9" y="253.96" width="6.6" height="4.4" rx="0.8" fill="#a6a6a6"/><rect x="83.6" y="255.26000000000002" width="1.3" height="1.8" fill="#777"/>
<text x="92.0" y="262.66" font-family='"Liberation Sans", sans-serif' font-size="11" fill="#1e1e1e" font-weight="normal" font-style="normal" text-anchor="start" textLength="46.2" lengthAdjust="spacingAndGlyphs" >Functions</text>
<rect x="57.9" y="279.46999999999997" width="4" height="1" fill="#a3a3a3"/>
<rect x="47.9" y="274.77" width="10.2" height="10.2" rx="2" fill="url(#gPlus)" stroke="#b3b3b3" stroke-width="0.7"/>
<path d="M50.1 279.86999999999995 H55.9" stroke="#111" stroke-width="1.35"/>
<rect x="62.2" y="273.16999999999996" width="18" height="17.5" rx="2.2" fill="url(#gIcon)" stroke="#9b9b9b" stroke-width="0.8"/>
<path d="M65.7 281.86999999999995 H71.7 L75.7 275.86999999999995 M71.7 281.86999999999995 L75.7 287.86999999999995" stroke="#111" stroke-width="1.1" fill="none"/>
<path d="M82.0 275.57 V274.07 Q82.0 272.07 84.2 272.07 Q86.4 272.07 86.4 274.07 V275.57" stroke="#a0a0a0" stroke-width="1.2" fill="none"/>
<rect x="80.9" y="275.57" width="6.6" height="4.4" rx="0.8" fill="#a6a6a6"/><rect x="83.6" y="276.87" width="1.3" height="1.8" fill="#777"/>
<text x="92.0" y="284.27" font-family='"Liberation Sans", sans-serif' font-size="11" fill="#1e1e1e" font-weight="normal" font-style="normal" text-anchor="start" textLength="40.7" lengthAdjust="spacingAndGlyphs" >Turbines</text>
<rect x="76.4" y="301.08" width="4" height="1" fill="#a3a3a3"/>
<rect x="66.4" y="296.38" width="10.2" height="10.2" rx="2" fill="url(#gPlus)" stroke="#b3b3b3" stroke-width="0.7"/>
<path d="M68.60000000000001 301.47999999999996 H74.4" stroke="#111" stroke-width="1.35"/>
<path d="M71.5 298.58 V304.38" stroke="#111" stroke-width="1.35"/>
<rect x="80.7" y="294.78" width="18" height="17.5" rx="2.2" fill="url(#gIcon)" stroke="#9b9b9b" stroke-width="0.8"/>
<path d="M81.2 303.47999999999996 H86.2" stroke="#7a7a7a" stroke-width="2"/>
<path d="M85.2 300.97999999999996 Q86.7 297.47999999999996 89.7 296.97999999999996 V309.97999999999996 Q86.7 309.47999999999996 85.2 305.97999999999996 Z" fill="#666" stroke="#555" stroke-width="0.6"/>
<path d="M90.2 296.97999999999996 Q92.2 297.47999999999996 94.2 301.67999999999995 H97.2 V305.28 H94.2 Q92.2 309.47999999999996 90.2 309.97999999999996 Z" fill="#fff" stroke="#777" stroke-width="0.7"/>
<path d="M100.5 297.18 V295.68 Q100.5 293.68 102.7 293.68 Q104.9 293.68 104.9 295.68 V297.18" stroke="#a0a0a0" stroke-width="1.2" fill="none"/>
<rect x="99.4" y="297.18" width="6.6" height="4.4" rx="0.8" fill="#a6a6a6"/><rect x="102.1" y="298.48" width="1.3" height="1.8" fill="#777"/>
<text x="110.30000000000001" y="305.88" font-family='"Liberation Sans", sans-serif' font-size="11" fill="#1e1e1e" font-weight="normal" font-style="normal" text-anchor="start" textLength="46.9" lengthAdjust="spacingAndGlyphs" >Interfaces</text>
<rect x="76.4" y="322.69" width="4" height="1" fill="#a3a3a3"/>
<rect x="66.4" y="317.99" width="10.2" height="10.2" rx="2" fill="url(#gPlus)" stroke="#b3b3b3" stroke-width="0.7"/>
<path d="M68.60000000000001 323.09 H74.4" stroke="#111" stroke-width="1.35"/>
<path d="M71.5 320.19 V325.99" stroke="#111" stroke-width="1.35"/>
<rect x="80.7" y="316.39" width="18" height="17.5" rx="2.2" fill="url(#gIcon)" stroke="#9b9b9b" stroke-width="0.8"/>
<path d="M83.7 321.28999999999996 H96.2 V328.89 H83.7 Z" fill="none" stroke="#111" stroke-width="1.1"/>
<rect x="87.2" y="319.59" width="5.5" height="3.3" rx="0.8" fill="#fff" stroke="#111" stroke-width="0.9"/><rect x="87.2" y="327.28999999999996" width="5.5" height="3.3" rx="0.8" fill="#fff" stroke="#111" stroke-width="0.9"/>
<path d="M93.2 327.59 L95.2 328.89 L93.2 330.09" fill="#111"/>
<path d="M100.5 318.79 V317.29 Q100.5 315.29 102.7 315.29 Q104.9 315.29 104.9 317.29 V318.79" stroke="#a0a0a0" stroke-width="1.2" fill="none"/>
<rect x="99.4" y="318.79" width="6.6" height="4.4" rx="0.8" fill="#a6a6a6"/><rect x="102.1" y="320.09000000000003" width="1.3" height="1.8" fill="#777"/>
<text x="110.30000000000001" y="327.49" font-family='"Liberation Sans", sans-serif' font-size="11" fill="#1e1e1e" font-weight="normal" font-style="normal" text-anchor="start" textLength="52.5" lengthAdjust="spacingAndGlyphs" >Controllers</text>
<rect x="76.4" y="344.29999999999995" width="4" height="1" fill="#a3a3a3"/>
<rect x="66.4" y="339.59999999999997" width="10.2" height="10.2" rx="2" fill="url(#gPlus)" stroke="#b3b3b3" stroke-width="0.7"/>
<path d="M68.60000000000001 344.69999999999993 H74.4" stroke="#111" stroke-width="1.35"/>
<path d="M71.5 341.79999999999995 V347.59999999999997" stroke="#111" stroke-width="1.35"/>
<rect x="80.2" y="337.69999999999993" width="18.5" height="18" rx="2" fill="#3b7a3f"/>
<path d="M84.2 343.8999999999999 V350.49999999999994 M94.7 343.8999999999999 V350.49999999999994" stroke="#fff" stroke-width="1"/>
<rect x="86.7" y="342.19999999999993" width="5.5" height="3.3" rx="1" fill="none" stroke="#fff" stroke-width="1"/><rect x="86.7" y="348.8999999999999" width="5.5" height="3.3" rx="1" fill="none" stroke="#fff" stroke-width="1"/>
<path d="M84.2 343.8999999999999 H86.7 M92.2 343.8999999999999 H94.7 M84.2 350.49999999999994 H86.7 M92.2 350.49999999999994 H94.7" stroke="#fff" stroke-width="1"/>
<path d="M100.5 340.4 V338.9 Q100.5 336.9 102.7 336.9 Q104.9 336.9 104.9 338.9 V340.4" stroke="#a0a0a0" stroke-width="1.2" fill="none"/>
<rect x="99.4" y="340.4" width="6.6" height="4.4" rx="0.8" fill="#a6a6a6"/><rect x="102.1" y="341.7" width="1.3" height="1.8" fill="#777"/>
<text x="110.30000000000001" y="349.09999999999997" font-family='"Liberation Sans", sans-serif' font-size="11" fill="#1e1e1e" font-weight="normal" font-style="normal" text-anchor="start" textLength="53.9" lengthAdjust="spacingAndGlyphs" >Mechanical</text>
<rect x="57.9" y="365.90999999999997" width="4" height="1" fill="#a3a3a3"/>
<rect x="47.9" y="361.21" width="10.2" height="10.2" rx="2" fill="url(#gPlus)" stroke="#b3b3b3" stroke-width="0.7"/>
<path d="M50.1 366.30999999999995 H55.9" stroke="#111" stroke-width="1.35"/>
<rect x="62.2" y="359.60999999999996" width="18" height="17.5" rx="2.2" fill="url(#gIcon)" stroke="#9b9b9b" stroke-width="0.8"/>
<path d="M65.7 362.30999999999995 V374.30999999999995 M64.7 363.30999999999995 H77.7" stroke="#3a7ad8" stroke-width="0.8"/>
<path d="M68.5 362.30999999999995 V374.30999999999995 M64.7 365.90999999999997 H77.7" stroke="#3a7ad8" stroke-width="0.8"/>
<path d="M71.3 362.30999999999995 V374.30999999999995 M64.7 368.50999999999993 H77.7" stroke="#3a7ad8" stroke-width="0.8"/>
<path d="M74.1 362.30999999999995 V374.30999999999995 M64.7 371.10999999999996 H77.7" stroke="#3a7ad8" stroke-width="0.8"/>
<path d="M76.9 362.30999999999995 V374.30999999999995 M64.7 373.7099999999999 H77.7" stroke="#3a7ad8" stroke-width="0.8"/>
<path d="M82.0 362.01 V360.51 Q82.0 358.51 84.2 358.51 Q86.4 358.51 86.4 360.51 V362.01" stroke="#a0a0a0" stroke-width="1.2" fill="none"/>
<rect x="80.9" y="362.01" width="6.6" height="4.4" rx="0.8" fill="#a6a6a6"/><rect x="83.6" y="363.31" width="1.3" height="1.8" fill="#777"/>
<text x="92.0" y="370.71" font-family='"Liberation Sans", sans-serif' font-size="11" fill="#1e1e1e" font-weight="normal" font-style="normal" text-anchor="start" textLength="20" lengthAdjust="spacingAndGlyphs" >Grid</text>
<rect x="76.4" y="387.52" width="4" height="1" fill="#a3a3a3"/>
<rect x="66.4" y="382.82" width="10.2" height="10.2" rx="2" fill="url(#gPlus)" stroke="#b3b3b3" stroke-width="0.7"/>
<path d="M68.60000000000001 387.91999999999996 H74.4" stroke="#111" stroke-width="1.35"/>
<path d="M71.5 385.02 V390.82" stroke="#111" stroke-width="1.35"/>
<rect x="80.7" y="381.21999999999997" width="18" height="17.5" rx="2.2" fill="url(#gIcon)" stroke="#9b9b9b" stroke-width="0.8"/>
<path d="M81.2 389.91999999999996 H86.2" stroke="#7a7a7a" stroke-width="2"/>
<path d="M85.2 387.41999999999996 Q86.7 383.91999999999996 89.7 383.41999999999996 V396.41999999999996 Q86.7 395.91999999999996 85.2 392.41999999999996 Z" fill="#666" stroke="#555" stroke-width="0.6"/>
<path d="M90.2 383.41999999999996 Q92.2 383.91999999999996 94.2 388.11999999999995 H97.2 V391.71999999999997 H94.2 Q92.2 395.91999999999996 90.2 396.41999999999996 Z" fill="#fff" stroke="#777" stroke-width="0.7"/>
<path d="M100.5 383.62 V382.12 Q100.5 380.12 102.7 380.12 Q104.9 380.12 104.9 382.12 V383.62" stroke="#a0a0a0" stroke-width="1.2" fill="none"/>
<rect x="99.4" y="383.62" width="6.6" height="4.4" rx="0.8" fill="#a6a6a6"/><rect x="102.1" y="384.92" width="1.3" height="1.8" fill="#777"/>
<text x="110.30000000000001" y="392.32" font-family='"Liberation Sans", sans-serif' font-size="11" fill="#1e1e1e" font-weight="normal" font-style="normal" text-anchor="start" textLength="46.9" lengthAdjust="spacingAndGlyphs" >Interfaces</text>
<rect x="76.4" y="409.13" width="4" height="1" fill="#a3a3a3"/>
<rect x="66.4" y="404.43" width="10.2" height="10.2" rx="2" fill="url(#gPlus)" stroke="#b3b3b3" stroke-width="0.7"/>
<path d="M68.60000000000001 409.53 H74.4" stroke="#111" stroke-width="1.35"/>
<path d="M71.5 406.63 V412.43" stroke="#111" stroke-width="1.35"/>
<rect x="80.7" y="402.83" width="18" height="17.5" rx="2.2" fill="url(#gIcon)" stroke="#9b9b9b" stroke-width="0.8"/>
<path d="M83.7 407.72999999999996 H96.2 V415.33 H83.7 Z" fill="none" stroke="#111" stroke-width="1.1"/>
<rect x="87.2" y="406.03" width="5.5" height="3.3" rx="0.8" fill="#fff" stroke="#111" stroke-width="0.9"/><rect x="87.2" y="413.72999999999996" width="5.5" height="3.3" rx="0.8" fill="#fff" stroke="#111" stroke-width="0.9"/>
<path d="M93.2 414.03 L95.2 415.33 L93.2 416.53" fill="#111"/>
<path d="M100.5 405.23 V403.73 Q100.5 401.73 102.7 401.73 Q104.9 401.73 104.9 403.73 V405.23" stroke="#a0a0a0" stroke-width="1.2" fill="none"/>
<rect x="99.4" y="405.23" width="6.6" height="4.4" rx="0.8" fill="#a6a6a6"/><rect x="102.1" y="406.53000000000003" width="1.3" height="1.8" fill="#777"/>
<text x="110.30000000000001" y="413.93" font-family='"Liberation Sans", sans-serif' font-size="11" fill="#1e1e1e" font-weight="normal" font-style="normal" text-anchor="start" textLength="52.5" lengthAdjust="spacingAndGlyphs" >Controllers</text>
<rect x="76.4" y="430.73999999999995" width="4" height="1" fill="#a3a3a3"/>
<rect x="66.4" y="426.03999999999996" width="10.2" height="10.2" rx="2" fill="url(#gPlus)" stroke="#b3b3b3" stroke-width="0.7"/>
<path d="M68.60000000000001 431.13999999999993 H74.4" stroke="#111" stroke-width="1.35"/>
<path d="M71.5 428.23999999999995 V434.03999999999996" stroke="#111" stroke-width="1.35"/>
<rect x="80.2" y="424.13999999999993" width="18.5" height="18" rx="2" fill="#3c80d0"/>
<path d="M84.2 430.3399999999999 V436.93999999999994 M94.7 430.3399999999999 V436.93999999999994" stroke="#fff" stroke-width="1"/>
<rect x="86.7" y="428.63999999999993" width="5.5" height="3.3" rx="1" fill="none" stroke="#fff" stroke-width="1"/><rect x="86.7" y="435.3399999999999" width="5.5" height="3.3" rx="1" fill="none" stroke="#fff" stroke-width="1"/>
<path d="M84.2 430.3399999999999 H86.7 M92.2 430.3399999999999 H94.7 M84.2 436.93999999999994 H86.7 M92.2 436.93999999999994 H94.7" stroke="#fff" stroke-width="1"/>
<path d="M100.5 426.84 V425.34 Q100.5 423.34 102.7 423.34 Q104.9 423.34 104.9 425.34 V426.84" stroke="#a0a0a0" stroke-width="1.2" fill="none"/>
<rect x="99.4" y="426.84" width="6.6" height="4.4" rx="0.8" fill="#a6a6a6"/><rect x="102.1" y="428.14" width="1.3" height="1.8" fill="#777"/>
<text x="110.30000000000001" y="435.53999999999996" font-family='"Liberation Sans", sans-serif' font-size="11" fill="#1e1e1e" font-weight="normal" font-style="normal" text-anchor="start" textLength="40.8" lengthAdjust="spacingAndGlyphs" >Electrical</text>
<rect x="57.9" y="452.34999999999997" width="4" height="1" fill="#a3a3a3"/>
<rect x="47.9" y="447.65" width="10.2" height="10.2" rx="2" fill="url(#gPlus)" stroke="#b3b3b3" stroke-width="0.7"/>
<path d="M50.1 452.74999999999994 H55.9" stroke="#111" stroke-width="1.35"/>
<rect x="61.7" y="445.74999999999994" width="18" height="18" rx="1" fill="#e4e4dc"/>
<circle cx="70.7" cy="454.74999999999994" r="5.5" fill="none" stroke="#333" stroke-width="1"/><path d="M67.7 450.74999999999994 V458.74999999999994 M67.7 452.74999999999994 H75.7 M67.7 456.74999999999994 H75.7" stroke="#333" stroke-width="1"/>
<path d="M82.0 448.45 V446.95 Q82.0 444.95 84.2 444.95 Q86.4 444.95 86.4 446.95 V448.45" stroke="#a0a0a0" stroke-width="1.2" fill="none"/>
<rect x="80.9" y="448.45" width="6.6" height="4.4" rx="0.8" fill="#a6a6a6"/><rect x="83.6" y="449.75" width="1.3" height="1.8" fill="#777"/>
<text x="92.0" y="457.15" font-family='"Liberation Sans", sans-serif' font-size="11" fill="#1e1e1e" font-weight="normal" font-style="normal" text-anchor="start" textLength="80.9" lengthAdjust="spacingAndGlyphs" >PowerElectronics</text>
<rect x="76.4" y="473.96" width="4" height="1" fill="#a3a3a3"/>
<rect x="66.4" y="469.26" width="10.2" height="10.2" rx="2" fill="url(#gPlus)" stroke="#b3b3b3" stroke-width="0.7"/>
<path d="M68.60000000000001 474.35999999999996 H74.4" stroke="#111" stroke-width="1.35"/>
<rect x="80.2" y="467.35999999999996" width="18.5" height="18" rx="2" fill="#a8cad2" stroke="#8fb0b8" stroke-width="0.6"/>
<path d="M92.7 471.85999999999996 L85.7 476.35999999999996 L92.7 480.85999999999996" stroke="#222" stroke-width="1" fill="none"/>
<circle cx="92.7" cy="471.85999999999996" r="1.6" fill="#222"/><circle cx="85.7" cy="476.35999999999996" r="1.6" fill="#222"/><circle cx="92.7" cy="480.85999999999996" r="1.6" fill="#222"/>
<path d="M100.5 470.06 V468.56 Q100.5 466.56 102.7 466.56 Q104.9 466.56 104.9 468.56 V470.06" stroke="#a0a0a0" stroke-width="1.2" fill="none"/>
<rect x="99.4" y="470.06" width="6.6" height="4.4" rx="0.8" fill="#a6a6a6"/><rect x="102.1" y="471.36" width="1.3" height="1.8" fill="#777"/>
<text x="110.30000000000001" y="478.76" font-family='"Liberation Sans", sans-serif' font-size="11" fill="#1e1e1e" font-weight="normal" font-style="normal" text-anchor="start" textLength="44.7" lengthAdjust="spacingAndGlyphs" >Common</text>
<rect x="94.9" y="495.57" width="4" height="1" fill="#a3a3a3"/>
<rect x="84.9" y="490.87" width="10.2" height="10.2" rx="2" fill="url(#gPlus)" stroke="#b3b3b3" stroke-width="0.7"/>
<path d="M87.10000000000001 495.96999999999997 H92.9" stroke="#111" stroke-width="1.35"/>
<path d="M90.0 493.07 V498.87" stroke="#111" stroke-width="1.35"/>
<rect x="99.2" y="489.27" width="18" height="17.5" rx="2.2" fill="url(#gIcon)" stroke="#9b9b9b" stroke-width="0.8"/>
<rect x="103.7" y="495.96999999999997" width="9" height="6" rx="1" fill="none" stroke="#333" stroke-width="0.9"/><path d="M101.7 498.96999999999997 H114.7" stroke="#333" stroke-width="0.9"/>
<path d="M119.0 491.67 V490.17 Q119.0 488.17 121.2 488.17 Q123.4 488.17 123.4 490.17 V491.67" stroke="#a0a0a0" stroke-width="1.2" fill="none"/>
<rect x="117.9" y="491.67" width="6.6" height="4.4" rx="0.8" fill="#a6a6a6"/><rect x="120.6" y="492.97" width="1.3" height="1.8" fill="#777"/>
<text x="128.60000000000002" y="500.37" font-family='"Liberation Sans", sans-serif' font-size="11" fill="#1e1e1e" font-weight="normal" font-style="normal" text-anchor="start" textLength="30.2" lengthAdjust="spacingAndGlyphs" >Blocks</text>
<rect x="76.4" y="517.1800000000001" width="4" height="1" fill="#a3a3a3"/>
<rect x="66.4" y="512.48" width="10.2" height="10.2" rx="2" fill="url(#gPlus)" stroke="#b3b3b3" stroke-width="0.7"/>
<path d="M68.60000000000001 517.58 H74.4" stroke="#111" stroke-width="1.35"/>
<rect x="80.7" y="510.88000000000005" width="18" height="17.5" rx="2.2" fill="url(#gIcon)" stroke="#9b9b9b" stroke-width="0.8"/>
<path d="M81.2 527.58 L98.2 511.58000000000004" stroke="#222" stroke-width="0.9"/><path d="M84.2 515.58 H88.2" stroke="#222" stroke-width="1.2"/><path d="M91.2 522.58 q1.5 -2 3 0 t3 0" stroke="#222" stroke-width="0.9" fill="none"/>
<path d="M100.5 513.2800000000001 V511.7800000000001 Q100.5 509.7800000000001 102.7 509.7800000000001 Q104.9 509.7800000000001 104.9 511.7800000000001 V513.2800000000001" stroke="#a0a0a0" stroke-width="1.2" fill="none"/>
<rect x="99.4" y="513.2800000000001" width="6.6" height="4.4" rx="0.8" fill="#a6a6a6"/><rect x="102.1" y="514.58" width="1.3" height="1.8" fill="#777"/>
<text x="110.30000000000001" y="521.98" font-family='"Liberation Sans", sans-serif' font-size="11" fill="#1e1e1e" font-weight="normal" font-style="normal" text-anchor="start" textLength="43.1" lengthAdjust="spacingAndGlyphs" >Inverters</text>
<rect x="94.9" y="538.79" width="4" height="1" fill="#a3a3a3"/>
<rect x="84.9" y="534.0899999999999" width="10.2" height="10.2" rx="2" fill="url(#gPlus)" stroke="#b3b3b3" stroke-width="0.7"/>
<path d="M87.10000000000001 539.1899999999999 H92.9" stroke="#111" stroke-width="1.35"/>
<path d="M90.0 536.29 V542.0899999999999" stroke="#111" stroke-width="1.35"/>
<rect x="99.2" y="532.4899999999999" width="18" height="17.5" rx="2.2" fill="url(#gIcon)" stroke="#9b9b9b" stroke-width="0.8"/>
<path d="M99.7 541.1899999999999 H104.7" stroke="#7a7a7a" stroke-width="2"/>
<path d="M103.7 538.6899999999999 Q105.2 535.1899999999999 108.2 534.6899999999999 V547.6899999999999 Q105.2 547.1899999999999 103.7 543.6899999999999 Z" fill="#666" stroke="#555" stroke-width="0.6"/>
<path d="M108.7 534.6899999999999 Q110.7 535.1899999999999 112.7 539.39 H115.7 V542.9899999999999 H112.7 Q110.7 547.1899999999999 108.7 547.6899999999999 Z" fill="#fff" stroke="#777" stroke-width="0.7"/>
<path d="M119.0 534.89 V533.39 Q119.0 531.39 121.2 531.39 Q123.4 531.39 123.4 533.39 V534.89" stroke="#a0a0a0" stroke-width="1.2" fill="none"/>
<rect x="117.9" y="534.89" width="6.6" height="4.4" rx="0.8" fill="#a6a6a6"/><rect x="120.6" y="536.1899999999999" width="1.3" height="1.8" fill="#777"/>
<text x="128.60000000000002" y="543.5899999999999" font-family='"Liberation Sans", sans-serif' font-size="11" fill="#1e1e1e" font-weight="normal" font-style="normal" text-anchor="start" textLength="46.4" lengthAdjust="spacingAndGlyphs" >Interfaces</text>
<rect x="94.9" y="560.4" width="4" height="1" fill="#a3a3a3"/>
<rect x="84.9" y="555.6999999999999" width="10.2" height="10.2" rx="2" fill="url(#gPlus)" stroke="#b3b3b3" stroke-width="0.7"/>
<path d="M87.10000000000001 560.8 H92.9" stroke="#111" stroke-width="1.35"/>
<path d="M90.0 557.9 V563.6999999999999" stroke="#111" stroke-width="1.35"/>
<rect x="99.2" y="554.0999999999999" width="18" height="17.5" rx="2.2" fill="url(#gIcon)" stroke="#9b9b9b" stroke-width="0.8"/>
<path d="M101.7 566.8 H104.7 V559.8 H110.7 V566.8 H114.7 V562.8" stroke="#222" stroke-width="1" fill="none"/>
<path d="M119.0 556.5 V555.0 Q119.0 553.0 121.2 553.0 Q123.4 553.0 123.4 555.0 V556.5" stroke="#a0a0a0" stroke-width="1.2" fill="none"/>
<rect x="117.9" y="556.5" width="6.6" height="4.4" rx="0.8" fill="#a6a6a6"/><rect x="120.6" y="557.8" width="1.3" height="1.8" fill="#777"/>
<text x="128.60000000000002" y="565.1999999999999" font-family='"Liberation Sans", sans-serif' font-size="11" fill="#1e1e1e" font-weight="normal" font-style="normal" text-anchor="start" textLength="26.4" lengthAdjust="spacingAndGlyphs" >PWM</text>
<rect x="94.9" y="582.01" width="4" height="1" fill="#a3a3a3"/>
<rect x="84.9" y="577.31" width="10.2" height="10.2" rx="2" fill="url(#gPlus)" stroke="#b3b3b3" stroke-width="0.7"/>
<path d="M87.10000000000001 582.41 H92.9" stroke="#111" stroke-width="1.35"/>
<path d="M90.0 579.51 V585.31" stroke="#111" stroke-width="1.35"/>
<rect x="99.2" y="575.7099999999999" width="18" height="17.5" rx="2.2" fill="url(#gIcon)" stroke="#9b9b9b" stroke-width="0.8"/>
<path d="M99.2 584.41 H117.2" stroke="#999" stroke-width="0.8"/>
<path d="M119.0 578.11 V576.61 Q119.0 574.61 121.2 574.61 Q123.4 574.61 123.4 576.61 V578.11" stroke="#a0a0a0" stroke-width="1.2" fill="none"/>
<rect x="117.9" y="578.11" width="6.6" height="4.4" rx="0.8" fill="#a6a6a6"/><rect x="120.6" y="579.41" width="1.3" height="1.8" fill="#777"/>
<text x="128.60000000000002" y="586.81" font-family='"Liberation Sans", sans-serif' font-size="11" fill="#1e1e1e" font-weight="normal" font-style="normal" text-anchor="start" textLength="45.7" lengthAdjust="spacingAndGlyphs" >Averaged</text>
<rect x="94.9" y="603.6199999999999" width="4" height="1" fill="#a3a3a3"/>
<rect x="84.9" y="598.9199999999998" width="10.2" height="10.2" rx="2" fill="url(#gPlus)" stroke="#b3b3b3" stroke-width="0.7"/>
<path d="M87.10000000000001 604.0199999999999 H92.9" stroke="#111" stroke-width="1.35"/>
<path d="M90.0 601.1199999999999 V606.9199999999998" stroke="#111" stroke-width="1.35"/>
<rect x="99.2" y="597.3199999999998" width="18" height="17.5" rx="2.2" fill="url(#gIcon)" stroke="#9b9b9b" stroke-width="0.8"/>
<path d="M102.7 603.0199999999999 H109.7 L113.7 606.0199999999999 L109.7 609.0199999999999 H102.7 Z M105.7 609.0199999999999 V613.0199999999999 M104.2 611.5199999999999 L105.7 613.0199999999999 L107.2 611.5199999999999" stroke="#222" stroke-width="0.9" fill="none"/>
<path d="M119.0 599.7199999999999 V598.2199999999999 Q119.0 596.2199999999999 121.2 596.2199999999999 Q123.4 596.2199999999999 123.4 598.2199999999999 V599.7199999999999" stroke="#a0a0a0" stroke-width="1.2" fill="none"/>
<rect x="117.9" y="599.7199999999999" width="6.6" height="4.4" rx="0.8" fill="#a6a6a6"/><rect x="120.6" y="601.0199999999999" width="1.3" height="1.8" fill="#777"/>
<text x="128.60000000000002" y="608.4199999999998" font-family='"Liberation Sans", sans-serif' font-size="11" fill="#1e1e1e" font-weight="normal" font-style="normal" text-anchor="start" textLength="72.7" lengthAdjust="spacingAndGlyphs" >EnergyAnalysis</text>
<rect x="57.9" y="625.23" width="4" height="1" fill="#a3a3a3"/>
<rect x="47.9" y="620.53" width="10.2" height="10.2" rx="2" fill="url(#gPlus)" stroke="#b3b3b3" stroke-width="0.7"/>
<path d="M50.1 625.63 H55.9" stroke="#111" stroke-width="1.35"/>
<rect x="62.2" y="618.93" width="18" height="17.5" rx="2.2" fill="url(#gIcon)" stroke="#9b9b9b" stroke-width="0.8"/>
<rect x="66.7" y="622.63" width="10" height="8" fill="#3a8ac8" stroke="#1a3a5a" stroke-width="0.8"/><path d="M67.7 633.13 H75.7" stroke="#111" stroke-width="1.6"/><path d="M64.2 625.63 V631.63" stroke="#333" stroke-width="0.8"/>
<path d="M82.0 621.33 V619.83 Q82.0 617.83 84.2 617.83 Q86.4 617.83 86.4 619.83 V621.33" stroke="#a0a0a0" stroke-width="1.2" fill="none"/>
<rect x="80.9" y="621.33" width="6.6" height="4.4" rx="0.8" fill="#a6a6a6"/><rect x="83.6" y="622.63" width="1.3" height="1.8" fill="#777"/>
<text x="92.0" y="630.03" font-family='"Liberation Sans", sans-serif' font-size="11" fill="#1e1e1e" font-weight="normal" font-style="normal" text-anchor="start" textLength="78.9" lengthAdjust="spacingAndGlyphs" >ElectricMachines</text>
<rect x="76.4" y="646.8399999999999" width="4" height="1" fill="#a3a3a3"/>
<rect x="66.4" y="642.1399999999999" width="10.2" height="10.2" rx="2" fill="url(#gPlus)" stroke="#b3b3b3" stroke-width="0.7"/>
<path d="M68.60000000000001 647.2399999999999 H74.4" stroke="#111" stroke-width="1.35"/>
<path d="M71.5 644.3399999999999 V650.1399999999999" stroke="#111" stroke-width="1.35"/>
<rect x="80.2" y="640.2399999999999" width="18.5" height="18" rx="2" fill="#a8cad2" stroke="#8fb0b8" stroke-width="0.6"/>
<path d="M92.7 644.7399999999999 L85.7 649.2399999999999 L92.7 653.7399999999999" stroke="#222" stroke-width="1" fill="none"/>
<circle cx="92.7" cy="644.7399999999999" r="1.6" fill="#222"/><circle cx="85.7" cy="649.2399999999999" r="1.6" fill="#222"/><circle cx="92.7" cy="653.7399999999999" r="1.6" fill="#222"/>
<path d="M100.5 642.9399999999999 V641.4399999999999 Q100.5 639.4399999999999 102.7 639.4399999999999 Q104.9 639.4399999999999 104.9 641.4399999999999 V642.9399999999999" stroke="#a0a0a0" stroke-width="1.2" fill="none"/>
<rect x="99.4" y="642.9399999999999" width="6.6" height="4.4" rx="0.8" fill="#a6a6a6"/><rect x="102.1" y="644.2399999999999" width="1.3" height="1.8" fill="#777"/>
<text x="110.30000000000001" y="651.6399999999999" font-family='"Liberation Sans", sans-serif' font-size="11" fill="#1e1e1e" font-weight="normal" font-style="normal" text-anchor="start" textLength="44.7" lengthAdjust="spacingAndGlyphs" >Common</text>
<rect x="76.4" y="668.45" width="4" height="1" fill="#a3a3a3"/>
<rect x="66.4" y="663.75" width="10.2" height="10.2" rx="2" fill="url(#gPlus)" stroke="#b3b3b3" stroke-width="0.7"/>
<path d="M68.60000000000001 668.85 H74.4" stroke="#111" stroke-width="1.35"/>
<path d="M71.5 665.95 V671.75" stroke="#111" stroke-width="1.35"/>
<rect x="80.7" y="662.15" width="18" height="17.5" rx="2.2" fill="url(#gIcon)" stroke="#9b9b9b" stroke-width="0.8"/>
<rect x="85.2" y="665.85" width="10" height="8" fill="#3a8ac8" stroke="#1a3a5a" stroke-width="0.8"/><path d="M86.2 676.35 H94.2" stroke="#111" stroke-width="1.6"/><path d="M82.7 668.85 V674.85" stroke="#333" stroke-width="0.8"/>
<path d="M100.5 664.5500000000001 V663.0500000000001 Q100.5 661.0500000000001 102.7 661.0500000000001 Q104.9 661.0500000000001 104.9 663.0500000000001 V664.5500000000001" stroke="#a0a0a0" stroke-width="1.2" fill="none"/>
<rect x="99.4" y="664.5500000000001" width="6.6" height="4.4" rx="0.8" fill="#a6a6a6"/><rect x="102.1" y="665.85" width="1.3" height="1.8" fill="#777"/>
<text x="110.30000000000001" y="673.25" font-family='"Liberation Sans", sans-serif' font-size="11" fill="#1e1e1e" font-weight="normal" font-style="normal" text-anchor="start" textLength="36.5" lengthAdjust="spacingAndGlyphs" >Generic</text>
<rect x="76.4" y="690.06" width="4" height="1" fill="#a3a3a3"/>
<rect x="66.4" y="685.3599999999999" width="10.2" height="10.2" rx="2" fill="url(#gPlus)" stroke="#b3b3b3" stroke-width="0.7"/>
<path d="M68.60000000000001 690.4599999999999 H74.4" stroke="#111" stroke-width="1.35"/>
<path d="M71.5 687.56 V693.3599999999999" stroke="#111" stroke-width="1.35"/>
<rect x="80.7" y="683.7599999999999" width="18" height="17.5" rx="2.2" fill="url(#gIcon)" stroke="#9b9b9b" stroke-width="0.8"/>
<rect x="85.2" y="687.4599999999999" width="10" height="8" fill="#3a8ac8" stroke="#1a3a5a" stroke-width="0.8"/><path d="M86.2 697.9599999999999 H94.2" stroke="#111" stroke-width="1.6"/><path d="M82.7 690.4599999999999 V696.4599999999999" stroke="#333" stroke-width="0.8"/>
<rect x="87.2" y="690.4599999999999" width="3" height="2" fill="#2a2"/><rect x="90.2" y="690.4599999999999" width="3" height="2" fill="#d22"/>
<path d="M100.5 686.16 V684.66 Q100.5 682.66 102.7 682.66 Q104.9 682.66 104.9 684.66 V686.16" stroke="#a0a0a0" stroke-width="1.2" fill="none"/>
<rect x="99.4" y="686.16" width="6.6" height="4.4" rx="0.8" fill="#a6a6a6"/><rect x="102.1" y="687.4599999999999" width="1.3" height="1.8" fill="#777"/>
<text x="110.30000000000001" y="694.8599999999999" font-family='"Liberation Sans", sans-serif' font-size="11" fill="#1e1e1e" font-weight="normal" font-style="normal" text-anchor="start" textLength="20.9" lengthAdjust="spacingAndGlyphs" >PSM</text>
<rect x="39.4" y="711.6700000000001" width="4" height="1" fill="#a3a3a3"/>
<rect x="29.4" y="706.97" width="10.2" height="10.2" rx="2" fill="url(#gPlus)" stroke="#b3b3b3" stroke-width="0.7"/>
<path d="M31.599999999999998 712.07 H37.4" stroke="#111" stroke-width="1.35"/>
<path d="M34.5 709.1700000000001 V714.97" stroke="#111" stroke-width="1.35"/>
<rect x="43.7" y="705.37" width="18" height="17.5" rx="2.2" fill="url(#gIcon)" stroke="#9b9b9b" stroke-width="0.8"/>
<path d="M63.5 707.7700000000001 V706.2700000000001 Q63.5 704.2700000000001 65.7 704.2700000000001 Q67.9 704.2700000000001 67.9 706.2700000000001 V707.7700000000001" stroke="#a0a0a0" stroke-width="1.2" fill="none"/>
<rect x="62.4" y="707.7700000000001" width="6.6" height="4.4" rx="0.8" fill="#a6a6a6"/><rect x="65.1" y="709.07" width="1.3" height="1.8" fill="#777"/>
<text x="73.7" y="716.47" font-family='"Liberation Sans", sans-serif' font-size="11" fill="#1e1e1e" font-weight="normal" font-style="normal" text-anchor="start" textLength="111.6" lengthAdjust="spacingAndGlyphs" >Modelica_Synchronous</text>
<rect x="388" y="93" width="823" height="684.5" rx="1.5" fill="#ffffff" stroke="#8c8c8c" stroke-width="2"/>
<defs><radialGradient id="gBox" cx="0.5" cy="0.5" r="0.62"><stop offset="0" stop-color="#ffffff"/><stop offset="0.55" stop-color="#f7f7f7"/><stop offset="1" stop-color="#dedede"/></radialGradient><linearGradient id="gFade" x1="0" y1="0" x2="1" y2="0"><stop offset="0" stop-color="#f1f2f4" stop-opacity="0"/><stop offset="1" stop-color="#f1f2f4" stop-opacity="1"/></linearGradient></defs>
<rect x="402.5" y="476.3" width="698.5" height="266.7" rx="17" fill="none" stroke="#4a8ad6" stroke-width="1.1"/>
<text x="629.8" y="734" font-family='"Liberation Sans", sans-serif' font-size="11" fill="#3a7cc8" font-weight="normal" font-style="normal" text-anchor="start" textLength="119.8" lengthAdjust="spacingAndGlyphs" >Generator-Side Control</text>
<rect x="429.5" y="503.8" width="164" height="205.8" rx="16" fill="#f2f2f3" stroke="#2e78cc" stroke-width="2" stroke-dasharray="6 4.2"/>
<text x="475.4" y="524" font-family='"Liberation Sans", sans-serif' font-size="11" fill="#3a7cc8" font-weight="normal" font-style="normal" text-anchor="start" textLength="66" lengthAdjust="spacingAndGlyphs" >Pitch Control</text>
<rect x="779.3" y="496.8" width="260.8" height="211.4" rx="16" fill="#f2f2f3" stroke="#2e78cc" stroke-width="2" stroke-dasharray="6 4.2"/>
<text x="803.7" y="524" font-family='"Liberation Sans", sans-serif' font-size="11" fill="#3a7cc8" font-weight="normal" font-style="normal" text-anchor="start" textLength="73.5" lengthAdjust="spacingAndGlyphs" >Torque Control</text>
<path d="M532 298.5 L580 298.5" fill="none" stroke="#5858ae" stroke-width="1.7" />
<path d="M580 325.5 L559.7 325.5 L559.7 544.5 L456.5 544.5 L456.5 606.3 L485 606.3" fill="none" stroke="#5858ae" stroke-width="1.7" />
<path d="M666.5 298 L727 298" fill="none" stroke="#555555" stroke-width="1.3" />
<path d="M803 298 L864 298" fill="none" stroke="#5c5cff" stroke-width="1.7" />
<path d="M940 277.5 L970.8 277.5 L970.8 229.5 L1142.2 229.5 L1142.2 401" fill="none" stroke="#5c5cff" stroke-width="1.7" />
<path d="M1073.6 229.5 L1073.6 366" fill="none" stroke="#5c5cff" stroke-width="1.7" />
<path d="M940 318.5 L970.8 318.5 L970.8 366 L1142.2 366" fill="none" stroke="#5c5cff" stroke-width="1.7" />
<path d="M1142.2 401 L1142.2 417.6" fill="none" stroke="#5c5cff" stroke-width="1.7" />
<path d="M1121.5 417.6 L1162.5 417.6" fill="none" stroke="#5c5cff" stroke-width="1.7" />
<path d="M1128.5 424.5 L1155.5 424.5" fill="none" stroke="#5c5cff" stroke-width="1.7" />
<path d="M1135 431.8 L1149 431.8" fill="none" stroke="#5c5cff" stroke-width="1.7" />
<text x="1126.6" y="451" font-family='"Liberation Sans", sans-serif' font-size="11" fill="#1414ff" font-weight="normal" font-style="normal" text-anchor="start" textLength="34.8" lengthAdjust="spacingAndGlyphs" >ground</text>
<path d="M1011 606 L1018.6 606 L1018.6 298.3 L950 298.3" fill="none" stroke="#5858ae" stroke-width="1.7" />
<path d="M573 606 L662.5 606" fill="none" stroke="#5858ae" stroke-width="1.7" />
<path d="M628.2 458.5 L628.2 606" fill="none" stroke="#5858ae" stroke-width="1.7" />
<path d="M752 606 L786 606" fill="none" stroke="#5858ae" stroke-width="1.7" />
<path d="M875 606 L923 606" fill="none" stroke="#5858ae" stroke-width="1.7" />
<path d="M628.2 337 L628.2 412.5" fill="none" stroke="#cccccc" stroke-width="1.5" />
<path d="M765 336 L765 434.7 L902.2 434.7" fill="none" stroke="#0d5aa8" stroke-width="2.3" />
<path d="M902.2 336 L902.2 674.5" fill="none" stroke="#0d5aa8" stroke-width="2.3" />
<path d="M833.6 643 L833.6 674.5 L970.5 674.5 L970.5 643" fill="none" stroke="#0d5aa8" stroke-width="2.3" />
<rect x="1069.6" y="260" width="8" height="8" fill="#0000ff"/>
<rect x="1069.8" y="328.4" width="7.6" height="7.6" fill="#fff" stroke="#0000ff" stroke-width="1"/>
<rect x="1063" y="287" width="22" height="22" fill="#fff"/>
<path d="M1073.6 268 L1073.6 295.5" fill="none" stroke="#5c5cff" stroke-width="1.7" />
<path d="M1073.6 300.3 L1073.6 328.4" fill="none" stroke="#5c5cff" stroke-width="1.7" />
<path d="M1064.3 295.5 L1083 295.5" fill="none" stroke="#5c5cff" stroke-width="1.8" />
<path d="M1064.3 300.3 L1083 300.3" fill="none" stroke="#5c5cff" stroke-width="1.8" />
<rect x="1138.2" y="260" width="8" height="8" fill="#0000ff"/>
<rect x="1138.4" y="328.4" width="7.6" height="7.6" fill="#fff" stroke="#0000ff" stroke-width="1"/>
<rect x="1118" y="290" width="48" height="12" fill="#fff"/>
<path d="M1142.2 268 L1142.2 294.8" fill="none" stroke="#5c5cff" stroke-width="1.7" />
<path d="M1142.2 298 L1142.2 328.4" fill="none" stroke="#5c5cff" stroke-width="1.7" />
<path d="M1121 294.8 L1162.6 294.8" fill="none" stroke="#5c5cff" stroke-width="1.8" />
<path d="M1132 298.2 L1152.5 298.2" fill="none" stroke="#5c5cff" stroke-width="1.8" />
<path d="M1129.5 274 H1136 M1132.8 270.8 V277.2" stroke="#2020ff" stroke-width="1"/>
<path d="M1132 322 H1134" stroke="#2020ff" stroke-width="1"/>
<rect x="1138.2" y="396.6" width="8" height="8" fill="#0000ff"/>
<text transform="translate(1047.6,274.7) rotate(90)" x="0" y="3.96" font-family='"Liberation Sans", sans-serif' font-size="11" fill="#111" textLength="46.5" lengthAdjust="spacingAndGlyphs">C=2.4e-3</text>
<text transform="translate(1095.9,275.7) rotate(90)" x="0" y="3.96" font-family='"Liberation Sans", sans-serif' font-size="11" fill="#1414ff" textLength="44.5" lengthAdjust="spacingAndGlyphs">capacitor</text>
<text transform="translate(1173.8,266.4) rotate(90)" x="0" y="3.96" font-family='"Liberation Sans", sans-serif' font-size="11" fill="#1414ff" textLength="63" lengthAdjust="spacingAndGlyphs">u_DC=5.4e3</text>
<text transform="translate(643.5,402.5) rotate(90)" x="0" y="3.96" font-family='"Liberation Sans", sans-serif' font-size="11" fill="#555" textLength="64.5" lengthAdjust="spacingAndGlyphs">turbineSpeed</text>
<text transform="translate(615.8,411.5) rotate(90)" x="0" y="3.96" font-family='"Liberation Sans", sans-serif' font-size="11" fill="#9030f0" stroke="#9030f0" stroke-width="0.35" textLength="47" lengthAdjust="spacingAndGlyphs">from BUS</text>
<rect x="456.5" y="263.2" width="69.5" height="69.5" fill="url(#gBox)" stroke="#9c9c9c" stroke-width="1"/>
<text x="462.5" y="257.4" font-family='"Liberation Sans", sans-serif' font-size="11" fill="#3a3a3a" font-weight="normal" font-style="normal" text-anchor="start" textLength="57" lengthAdjust="spacingAndGlyphs" >windSource</text>
<path d="M464 284.2 H481.5" stroke="#1b9a4a" stroke-width="1.1"/><path d="M477 280.59999999999997 L484 284.2 L477 287.8 Z" fill="none" stroke="#1b9a4a" stroke-width="1.1"/>
<path d="M464 298 H481.5" stroke="#1b9a4a" stroke-width="1.1"/><path d="M477 294.4 L484 298 L477 301.6 Z" fill="none" stroke="#1b9a4a" stroke-width="1.1"/>
<path d="M464 311.6 H481.5" stroke="#1b9a4a" stroke-width="1.1"/><path d="M477 308.0 L484 311.6 L477 315.20000000000005 Z" fill="none" stroke="#1b9a4a" stroke-width="1.1"/>
<ellipse cx="496.5" cy="267.5" rx="2.6" ry="0" fill="none"/>
<ellipse cx="496.5" cy="298" rx="2.9" ry="31" fill="#b0d4f8" stroke="#2f7ce0" stroke-width="0.9"/>
<path d="M493 294 H504 Q505 294 505 295 V301 Q505 302 504 302 H493 Q490.5 302 490.5 298 Q490.5 294 493 294 Z" fill="#777" stroke="#222" stroke-width="0.8"/><path d="M497 294 V302" stroke="#222" stroke-width="0.7"/>
<path d="M525.8 294 L532.5 298 L525.8 302 Z" fill="#fff" stroke="#333" stroke-width="0.8"/>
<rect x="593.8" y="263.5" width="69" height="69.2" fill="url(#gBox)" stroke="#9c9c9c" stroke-width="1"/>
<text x="611" y="257.4" font-family='"Liberation Sans", sans-serif' font-size="11" fill="#3a3a3a" font-weight="normal" font-style="normal" text-anchor="start" textLength="35.5" lengthAdjust="spacingAndGlyphs" >turbine</text>
<path d="M629.13 298.64 L635.80 287.97 L644.12 271.00 L643.08 270.40 L632.68 286.19 L626.87 297.36 Z" fill="#0b5aa0" stroke="#0b5aa0" stroke-width="0.5" stroke-linejoin="round"/>
<path d="M626.88 298.66 L632.85 309.79 L643.48 325.50 L644.52 324.90 L635.95 307.97 L629.12 297.34 Z" fill="#0b5aa0" stroke="#0b5aa0" stroke-width="0.5" stroke-linejoin="round"/>
<path d="M627.99 296.70 L618.56 296.49 L596.59 297.70 L596.61 298.90 L618.60 299.69 L628.01 299.30 Z" fill="#0b5aa0" stroke="#0b5aa0" stroke-width="0.5" stroke-linejoin="round"/>
<circle cx="628" cy="298" r="2.6" fill="#1a7ad0" stroke="#0b5aa0" stroke-width="0.6"/>
<rect x="596" y="313.5" width="20" height="18" rx="2" fill="#fff" stroke="#9a9a9a" stroke-width="0.8"/>
<path d="M598.5 315 V330 H614 M599.5 318 Q601 329 603.5 327 Q606 322 607.5 327 Q610 331 613.5 319" stroke="#222" stroke-width="0.8" fill="none"/>
<path d="M580 291.5 L593.8 298 L580 304.5 Z" fill="#333"/>
<path d="M580 319 L593.8 325.5 L580 332 Z" fill="#333"/>
<circle cx="662.8" cy="298" r="4" fill="#666" stroke="#222" stroke-width="0.9"/>
<path d="M623 330 Q623 328.5 625 328.5 H632 Q634 328.5 634.5 330.5 L633.5 335 Q633 336.5 631.5 336.5 H625.5 Q624 336.5 623.5 335 Z" fill="#fff" stroke="#222" stroke-width="0.9"/>
<path d="M625.5 331.5 h1 M628 331.5 h1 M630.5 331.5 h1 M626.5 334 h1 M629.5 334 h1" stroke="#555" stroke-width="0.8"/>
<rect x="730.8" y="263.4" width="69" height="69.2" fill="url(#gBox)" stroke="#9c9c9c" stroke-width="1"/>
<text x="741" y="274" font-family='"Liberation Sans", sans-serif' font-size="11" fill="#333" font-weight="normal" font-style="normal" text-anchor="start" textLength="48.5" lengthAdjust="spacingAndGlyphs" >linearPSM</text>
<rect x="731" y="294.5" width="10" height="7" fill="#666" stroke="#333" stroke-width="0.6"/>
<circle cx="731" cy="298" r="4" fill="#666" stroke="#222" stroke-width="0.9"/>
<rect x="741" y="277.8" width="49" height="40.6" fill="url(#gMotor)"/>
<rect x="786" y="277.8" width="4" height="40.6" fill="#5a5a5a"/>
<rect x="747.2" y="292.9" width="17" height="9.8" fill="#e83030" stroke="#222" stroke-width="0.7"/>
<rect x="764.2" y="292.9" width="17" height="9.8" fill="#8cc48c" stroke="#222" stroke-width="0.7"/>
<path d="M745.5 318.5 H752.5 L754 322 H744 Z M774.5 318.5 H781.5 L783 322 H773 Z" fill="#444"/>
<circle cx="799.5" cy="298" r="4" fill="#0000ff"/>
<path d="M758.5 330.5 Q758.5 329 760.5 329 H769.5 Q771.5 329 771.5 330.5 L770.5 335 Q770 336.5 768.5 336.5 H761.5 Q760 336.5 759.5 335 Z" fill="#0d52a0" stroke="#111" stroke-width="0.9"/>
<path d="M761.5 331.5 h1 M764.5 331.5 h1 M767.5 331.5 h1 M763 334 h1 M766 334 h1" stroke="#5a8ad0" stroke-width="0.8"/>
<rect x="867.6" y="264" width="69" height="68.5" fill="url(#gBox)" stroke="#222" stroke-width="1.3"/>
<path d="M867.6 264 L936.6 332.5" stroke="#222" stroke-width="1.1"/>
<path d="M908.5 279.5 H929 M908.5 286.5 H929" stroke="#5ab0f0" stroke-width="1"/>
<path d="M874.5 315.5 Q876.5 329 882.5 325.5 Q886.5 322 888.5 312 Q891 303 896 304.5 Q902 306 902.5 314.5" stroke="#30c8d8" stroke-width="1.2" fill="none"/>
<text x="861.6" y="272.6" font-family='"Liberation Sans", sans-serif' font-size="11" fill="#404040" font-weight="normal" font-style="normal" text-anchor="start" textLength="81" lengthAdjust="spacingAndGlyphs" >averagedInverter</text>
<rect x="932.5" y="273.5" width="8" height="8" fill="#0000ff"/>
<rect x="933" y="315" width="7" height="7" fill="#fff" stroke="#0000ff" stroke-width="1"/>
<circle cx="867.6" cy="298" r="4" fill="#0000ff"/>
<path d="M950.5 291.5 L937 298 L950.5 304.5 Z" fill="#333"/>
<path d="M895.7 330.5 Q895.7 329 897.7 329 H906.7 Q908.7 329 908.7 330.5 L907.7 335 Q907.2 336.5 905.7 336.5 H898.7 Q897.2 336.5 896.7 335 Z" fill="#0d52a0" stroke="#111" stroke-width="0.9"/>
<path d="M898.7 331.5 h1 M901.7 331.5 h1 M904.7 331.5 h1 M900.2 334 h1 M903.2 334 h1" stroke="#5a8ad0" stroke-width="0.8"/>
<rect x="491.3" y="572" width="68.4" height="68.6" fill="url(#gBox)" stroke="#9c9c9c" stroke-width="1"/>
<text x="495.5" y="654" font-family='"Liberation Sans", sans-serif' font-size="11" fill="#3a3a3a" font-weight="normal" font-style="normal" text-anchor="start" textLength="59.5" lengthAdjust="spacingAndGlyphs" >pitchControl</text>
<ellipse cx="0" cy="0" rx="4.6" ry="8.8" transform="translate(515.5,587.5) rotate(28)" fill="none" stroke="#c0282e" stroke-width="1"/>
<ellipse cx="0" cy="0" rx="3.9" ry="9.2" transform="translate(544.3,605.2)" fill="none" stroke="#c0282e" stroke-width="1"/>
<ellipse cx="0" cy="0" rx="4.6" ry="8.8" transform="translate(514.5,625.2) rotate(-28)" fill="none" stroke="#c0282e" stroke-width="1"/>
<path d="M506.5 588 L510.5 587 L509.5 591.5 Z M539.5 600.5 L542 597 L543.5 601.5 Z M518 628 L521.5 626 L521.5 630.5 Z" fill="#c0282e"/>
<path d="M526.43 605.28 L520.33 594.26 L509.61 578.69 L508.59 579.31 L517.43 596.02 L524.37 606.52 Z" fill="#0b5aa0" stroke="#0b5aa0" stroke-width="0.5" stroke-linejoin="round"/>
<path d="M524.36 605.31 L517.76 615.94 L509.48 632.80 L510.52 633.40 L520.72 617.62 L526.44 606.49 Z" fill="#0b5aa0" stroke="#0b5aa0" stroke-width="0.5" stroke-linejoin="round"/>
<path d="M525.40 607.10 L533.22 607.42 L556.70 606.60 L556.70 605.40 L533.23 604.43 L525.40 604.70 Z" fill="#0b5aa0" stroke="#0b5aa0" stroke-width="0.5" stroke-linejoin="round"/>
<circle cx="525.4" cy="605.9" r="2.8" fill="#1a7ad0"/>
<path d="M485 602.5 L491 606.3 L485 610 Z" fill="#fff" stroke="#333" stroke-width="0.8"/>
<path d="M560 606 L573 599.5 L573 612.5 Z" fill="#333"/>
<rect x="675.8" y="572" width="69" height="68.8" fill="url(#gBox)" stroke="#9c9c9c" stroke-width="1"/>
<text x="697.8" y="564.8" font-family='"Liberation Sans", sans-serif' font-size="11" fill="#3a3a3a" font-weight="normal" font-style="normal" text-anchor="start" textLength="25.2" lengthAdjust="spacingAndGlyphs" >mppt</text>
<path d="M682.5 621 V579" stroke="#cfcfcf" stroke-width="1.1"/><path d="M680.2 583 L682.5 575.5 L684.8 583 Z" fill="#cfcfcf"/>
<path d="M700 633.8 H735" stroke="#cfcfcf" stroke-width="1.1"/><path d="M733 631.5 L741 633.8 L733 636.1 Z" fill="#cfcfcf"/>
<path d="M691.5 621 C695.5 609 700 597.5 706.5 597 C714 596.5 726 614 733 622 Q737 626 741 626.5" stroke="#2f7ad0" stroke-width="1.1" fill="none"/>
<circle cx="706.5" cy="597" r="1.9" fill="#c8c8c8" stroke="#2f7ad0" stroke-width="0.9"/>
<rect x="678.8" y="620.5" width="22.5" height="17.8" rx="2" fill="#fff" stroke="#a0a0a0" stroke-width="0.8"/>
<path d="M682.8 627 Q683.5 624.3 687 624.3 H695 L694.6 626.3 H690.3 L689.8 632.5 Q689.8 634.6 691.8 634.2 L691.5 636 Q687.5 637 687.7 633 L688.1 626.3 Q685 626.2 684.2 628 Z" fill="#333"/>
<path d="M662.5 599.5 L675.8 606 L662.5 612.5 Z" fill="#333"/>
<path d="M745 602 L752 606 L745 610 Z" fill="#fff" stroke="#333" stroke-width="0.8"/>
<rect x="799.5" y="572.2" width="68.3" height="68.1" fill="url(#gBox)" stroke="#9c9c9c" stroke-width="1"/>
<circle cx="834" cy="608.3" r="24.3" fill="#fff" stroke="#a8a8a8" stroke-width="0.9"/>
<path d="M828.6 618.5 V596 M828.6 618.5 H851" stroke="#d2d2d2" stroke-width="0.9"/><path d="M826.8 597 L828.6 592.5 L830.4 597 Z M850 616.7 L854.5 618.5 L850 620.3 Z" fill="#d2d2d2"/>
<path d="M814 605.7 L828.6 618.5 L842.3 602.5" stroke="#111" stroke-width="1.3" fill="none"/>
<path d="M812.5 604.3 L817.8 606 L815.2 609 Z M843.6 601 L842.4 606.5 L839.4 604 Z" fill="#111"/>
<rect x="801" y="624" width="27.4" height="14.4" rx="2.5" fill="#fff" stroke="#a0a0a0" stroke-width="0.8"/>
<path d="M803 635.5 Q812 626.5 822 632.5" stroke="#111" stroke-width="1.1" fill="none"/><path d="M819.5 630 L827 635.5 L820.5 636.5 Z" fill="#111"/>
<rect x="841" y="630.3" width="22.2" height="7.7" fill="#555"/>
<rect x="842.5" y="631.4" width="9.5" height="5.6" fill="#8cc48c"/><rect x="852.2" y="631.4" width="9.8" height="5.6" fill="#e82a2a"/>
<text x="794" y="581.7" font-family='"Liberation Sans", sans-serif' font-size="11" fill="#3a3a3a" font-weight="normal" font-style="normal" text-anchor="start" textLength="79.5" lengthAdjust="spacingAndGlyphs" >torqueController</text>
<path d="M786 599.5 L799.5 606 L786 612.5 Z" fill="#333"/>
<path d="M868 602 L875.5 606 L868 610 Z" fill="#fff" stroke="#333" stroke-width="0.8"/>
<path d="M827.0 638.5 Q827.0 637 829.0 637 H838.0 Q840.0 637 840.0 638.5 L839.0 643 Q838.5 644.5 837.0 644.5 H830.0 Q828.5 644.5 828.0 643 Z" fill="#0d52a0" stroke="#111" stroke-width="0.9"/>
<path d="M830.0 639.5 h1 M833.0 639.5 h1 M836.0 639.5 h1 M831.5 642 h1 M834.5 642 h1" stroke="#5a8ad0" stroke-width="0.8"/>
<rect x="936.2" y="572.2" width="68.6" height="68.1" fill="url(#gBox)" stroke="#9c9c9c" stroke-width="1"/>
<path d="M940.2 602.8 H957 V586.1 H984.4 V602.8 H1001.5 M940.2 626.6 H964 V609.7 H977.4 V626.6 H1001.5" stroke="#3a86d8" stroke-width="1.3" fill="none"/>
<path d="M945 586 L997.8 638.4 M995.5 586 L943.1 638.4" stroke="#f0a050" stroke-width="1.1"/>
<text x="937.5" y="582" font-family='"Liberation Sans", sans-serif' font-size="11" fill="#3a3a3a" font-weight="normal" font-style="normal" text-anchor="start" textLength="66.5" lengthAdjust="spacingAndGlyphs" >noModulation</text>
<path d="M923 599.5 L936.2 606 L923 612.5 Z" fill="#333"/>
<path d="M1005 602 L1012 606 L1005 610 Z" fill="#fff" stroke="#333" stroke-width="0.8"/>
<path d="M964.4 638.5 Q964.4 637 966.4 637 H975.4 Q977.4 637 977.4 638.5 L976.4 643 Q975.9 644.5 974.4 644.5 H967.4 Q965.9 644.5 965.4 643 Z" fill="#0d52a0" stroke="#111" stroke-width="0.9"/>
<path d="M967.4 639.5 h1 M970.4 639.5 h1 M973.4 639.5 h1 M968.9 642 h1 M971.9 642 h1" stroke="#5a8ad0" stroke-width="0.8"/>
<rect x="626.6" y="421" width="3.9" height="27" fill="#555" stroke="#222" stroke-width="0.5"/>
<path d="M621.5 416 Q621.5 412.4 625 412.4 H631.3 Q634.8 412.4 634.8 416 V422 H621.5 Z" fill="#fff" stroke="#222" stroke-width="0.9"/>
<path d="M624.5 418 Q624.5 414.6 628.2 414.6 Q631.8 414.6 631.8 418" fill="none" stroke="#222" stroke-width="0.8"/>
<path d="M621.5 447.2 H634.8 V455 H621.5 Z" fill="#fff" stroke="#222" stroke-width="0.9"/>
<path d="M623.5 422.5 V425.5 q0 1.5 1.5 1.5 M633 422.5 V425.5 q0 1.5 -1.5 1.5 M623.5 446.5 V443.5 q0 -1.5 1.5 -1.5 M633 446.5 V443.5 q0 -1.5 -1.5 -1.5" stroke="#222" stroke-width="0.9" fill="none"/>
<path d="M626.2 455 L628.2 458.5 L630.2 455 Z" fill="#fff" stroke="#222" stroke-width="0.6"/>
<defs><filter id="fSh" x="-5%" y="-30%" width="110%" height="160%"><feGaussianBlur stdDeviation="0.8"/></filter></defs>
<path d="M664.8 823.5 V807 Q664.8 804.4 667.5 804.4 H852 Q854.7 804.4 854.7 807 V823.5 Z" fill="#e6e7e8" stroke="#c9c9c9" stroke-width="0.9"/>
<text x="682" y="816.6" font-family='"Liberation Sans", sans-serif' font-size="9.5" fill="#4a4a4a" font-weight="normal" font-style="normal" text-anchor="start" textLength="74.3" lengthAdjust="spacingAndGlyphs" >Behavior Authoring</text>
<circle cx="777.3" cy="813.4" r="2.4" fill="#2a7ac0"/>
<circle cx="788.6" cy="813.4" r="2.1" fill="#fff" stroke="#444" stroke-width="0.8"/>
<circle cx="799.9" cy="813.4" r="2.1" fill="#fff" stroke="#444" stroke-width="0.8"/>
<circle cx="811.1" cy="813.4" r="2.1" fill="#fff" stroke="#444" stroke-width="0.8"/>
<circle cx="822.4" cy="813.4" r="2.1" fill="#fff" stroke="#444" stroke-width="0.8"/>
<circle cx="833.7" cy="813.4" r="2.1" fill="#fff" stroke="#444" stroke-width="0.8"/>
<circle cx="845.0" cy="813.4" r="2.1" fill="#fff" stroke="#444" stroke-width="0.8"/>
<path d="M861 808.5 Q863.5 806 866.4 809 Q869.3 806 871.8 808.5 L866.4 815.5 Z" fill="#fff" stroke="#cfcfcf" stroke-width="0.9" stroke-linejoin="round"/>
<rect x="371.5" y="822" width="794" height="42" rx="1.5" fill="#d9d9d9" filter="url(#fSh)" opacity="0.8"/>
<rect x="373.8" y="823.5" width="789.4" height="40" fill="#e4e5e6" stroke="#c6c6c6" stroke-width="0.8"/>
<rect x="374.3" y="824" width="275.9" height="38" fill="#ffffff"/>
<rect x="650" y="824" width="0.8" height="38" fill="#cfcfcf"/>
<rect x="541.0" y="831.5" width="1.1" height="22" fill="#6a6a6a"/>
<rect x="603.8" y="831.5" width="1.1" height="22" fill="#6a6a6a"/>
<rect x="823.0" y="831.5" width="1.1" height="22" fill="#6a6a6a"/>
<rect x="906.9" y="831.5" width="1.1" height="22" fill="#6a6a6a"/>
<rect x="958.9" y="831.5" width="1.1" height="22" fill="#6a6a6a"/>
<rect x="1043.0" y="831.5" width="1.1" height="22" fill="#6a6a6a"/>
<path d="M390 839.5 L406.5 848.3 L405.5 849.8 L391 843.5 Z M390 846.5 L405.5 836.2 L406.5 837.7 L391 842.5 Z" fill="#9a9a9a" stroke="#808080" stroke-width="0.6" stroke-linejoin="round"/>
<circle cx="386.9" cy="836.9" r="3.3" fill="none" stroke="#8a8a8a" stroke-width="3"/><circle cx="386.9" cy="849.2" r="3.3" fill="none" stroke="#8a8a8a" stroke-width="3"/>
<path d="M388.8 839.5 L393 843 L388.8 846.6" stroke="#8a8a8a" stroke-width="2.6" fill="none"/>
<path d="M415.3 831.5 H423.5 L428 836 V845.5 H415.3 Z" fill="#f0f0f0" stroke="#333" stroke-width="0.9" stroke-linejoin="round"/>
<path d="M424.3 838 H432.5 L437.5 843 V853.5 H424.3 Z" fill="#3d8cc0" stroke="#1f5a80" stroke-width="0.9" stroke-linejoin="round"/><path d="M432.5 838 V843 H437.5" fill="#8ac8ec" stroke="#1f5a80" stroke-width="0.7"/>
<rect x="448" y="833.5" width="14.5" height="17" rx="1.5" fill="#a8a8a8" stroke="#777" stroke-width="0.9"/><rect x="451" y="831.5" width="8" height="3.5" rx="1" fill="#999" stroke="#666" stroke-width="0.7"/>
<rect x="455.5" y="839.5" width="13.5" height="14.5" rx="1.2" fill="#8d8d8d" stroke="#666" stroke-width="0.9"/>
<path d="M475.2 842 H480.8 L478 845 Z" fill="#555"/>
<defs><linearGradient id="gUndo" x1="0" y1="0" x2="1" y2="1"><stop offset="0" stop-color="#8ccdf0"/><stop offset="1" stop-color="#2a72a8"/></linearGradient></defs>
<path d="M495.5 840 Q499 834.5 504 834.5 Q511 835 511.5 843 Q511.5 849.5 504 853" fill="none" stroke="#2e6f9e" stroke-width="4.6" stroke-linecap="butt"/>
<path d="M495.5 840 Q499 834.5 504 834.5 Q511 835 511.5 843 Q511.5 849.5 504 853" fill="none" stroke="url(#gUndo)" stroke-width="3.2"/>
<path d="M490.3 834.2 L490.3 843.8 L500 843.8 Z" fill="#6ab8e4" stroke="#2e6f9e" stroke-width="0.7" stroke-linejoin="round"/>
<path d="M517.2 842 H522.8 L520 845 Z" fill="#555"/>
<path d="M574.29 838.76 L570.76 842.01 L566.39 841.64 Z" fill="#8c8c8c"/>
<path d="M567.24 853.89 L563.99 850.36 L564.36 845.99 Z" fill="#8c8c8c"/>
<path d="M552.11 846.84 L555.64 843.59 L560.01 843.96 Z" fill="#8c8c8c"/>
<path d="M559.16 831.71 L562.41 835.24 L562.04 839.61 Z" fill="#8c8c8c"/>
<path d="M564.78 835.37 A7.6 7.6 0 0 1 570.34 840.20 M570.63 844.38 A7.6 7.6 0 0 1 565.80 849.94 M561.62 850.23 A7.6 7.6 0 0 1 556.06 845.40 M555.77 841.22 A7.6 7.6 0 0 1 560.60 835.66" fill="none" stroke="#8c8c8c" stroke-width="4"/>
<path d="M580.2 842 H585.8 L583 845 Z" fill="#555"/>
<path d="M618.5 841.5 V849.2 H632.5 V841.5" fill="none" stroke="#858585" stroke-width="2.2"/><path d="M625.5 846.5 V837" stroke="#707070" stroke-width="1.6"/><path d="M621.2 838.8 L625.5 833.6 L629.8 838.8 Z" fill="#707070"/>
<path d="M660.8 832.3 L666.4 837.9 M666.4 832.3 L660.8 837.9 M663.6 831.2 V839 M659.7 835.1 H667.5" stroke="#2a6fa8" stroke-width="1.4"/>
<path d="M665.5 840.8 H678 L681.5 846 L678 851.3 H665.5 L662 846 Z" fill="#fff" stroke="#222" stroke-width="1" stroke-linejoin="round"/><path d="M665.8 848.5 Q667.5 843.5 671.5 843.2 M673.5 843.5 h1 M675.5 843.5 h1" stroke="#222" stroke-width="0.9" fill="none"/><circle cx="675.2" cy="848.2" r="0.9" fill="#111"/><circle cx="661.8" cy="846" r="0.9" fill="#111"/><circle cx="681.7" cy="846" r="0.9" fill="#111"/>
<path d="M686.7 842 H692.3 L689.5 845 Z" fill="#555"/>
<path d="M702.5 832 H713 L718 837 V854 H702.5 Z" fill="#f2f2f2" stroke="#444" stroke-width="0.9"/><path d="M713 832 V837 H718" fill="none" stroke="#444" stroke-width="0.7"/>
<path d="M703 848 Q707 842 712 846 Q716 842 720 845" stroke="#555" stroke-width="1" fill="none"/><path d="M714.5 853 L724 840.5 L726 842.5 L716.5 854.5 Z" fill="#2f6fb0" stroke="#1a3a5a" stroke-width="0.6"/>
<rect x="731.5" y="828.5" width="28.5" height="28" rx="1.5" fill="#f0f0f0" stroke="#7aaedc" stroke-width="1.1"/>
<path d="M737 832 H748 L754 838 V853.5 H737 Z" fill="#f4f4f4" stroke="#333" stroke-width="0.9"/><path d="M739 841 H751 M739 844 H751 M739 847 H751" stroke="#ccc" stroke-width="0.8"/>
<circle cx="745.5" cy="845" r="5.3" fill="#1a8a1a"/><path d="M744 843.5 H746.2 V848.5 M744 848.5 H747.5" stroke="#fff" stroke-width="1.3" fill="none"/><circle cx="745.6" cy="841.2" r="0.9" fill="#fff"/>
<path d="M770.3 831 H774.8 V834.5 H778.3 V839 H774.8 V842.5 H770.3 V839 H766.8 V834.5 H770.3 Z" fill="#4aa3dc" stroke="#1f5f8e" stroke-width="0.9" stroke-linejoin="round"/><path d="M780.5 842.5 L787 836" stroke="#111" stroke-width="1.8"/><path d="M790 833 L782.5 834.5 L788.5 840.5 Z" fill="#111"/>
<path d="M767 853 Q771 846 776 849 Q780 845 784 847" stroke="#555" stroke-width="1" fill="none"/>
<circle cx="809" cy="843" r="7.3" fill="#fff" stroke="#555" stroke-width="1"/><path d="M807.5 839.5 L811 843 L807.5 846.5" fill="none" stroke="#222" stroke-width="1.8"/>
<rect x="837.4" y="836.4" width="15.5" height="14.5" rx="3" fill="#c9c9c9" stroke="#999" stroke-width="0.8"/>
<rect x="869" y="833" width="16" height="6.5" rx="3" fill="#c9c9c9" stroke="#999" stroke-width="0.8"/><rect x="869" y="845.5" width="16" height="7" rx="3" fill="#c9c9c9" stroke="#999" stroke-width="0.8"/><path d="M877 839.5 V845.5 M875 842.5 H879" stroke="#888" stroke-width="1"/>
<rect x="926" y="838" width="11" height="13.5" fill="#fff" stroke="#222" stroke-width="1"/><path d="M919 843 L923.5 850 L928.5 833.5" fill="none" stroke="#111" stroke-width="2"/>
<rect x="973.5" y="834" width="14" height="6.5" rx="1" fill="#3b8dc6" stroke="#1e5a86" stroke-width="0.8"/><path d="M972 851.5 L991 836" stroke="#2a5a86" stroke-width="1.1"/><rect x="979" y="845" width="13" height="8" rx="2" fill="#d8d8d8" stroke="#444" stroke-width="0.9"/>
<rect x="1002" y="832.5" width="5.5" height="3.5" fill="#5ba5d8" stroke="#1e5a86" stroke-width="0.7"/><rect x="1002" y="840" width="5.5" height="3.5" fill="#5ba5d8" stroke="#1e5a86" stroke-width="0.7"/><rect x="1011.5" y="832.5" width="5.5" height="3.5" fill="#5ba5d8" stroke="#1e5a86" stroke-width="0.7"/><path d="M1003 852.5 L1023 833" stroke="#2a5a86" stroke-width="1.1"/>
<path d="M1014 846 L1018.5 843.5 L1023 846 V851 L1018.5 853.5 L1014 851 Z" fill="#3b8dc6" stroke="#1e5a86" stroke-width="0.8"/>
<path d="M1068.30 836.50 L1069.72 834.92 L1071.10 835.29 L1071.55 837.37 L1072.48 838.02 L1074.58 837.73 L1075.40 838.90 L1074.41 840.78 L1074.70 841.87 L1076.50 843.00 L1076.38 844.42 L1074.41 845.22 L1073.93 846.25 L1074.58 848.27 L1073.57 849.28 L1071.55 848.63 L1070.52 849.11 L1069.72 851.08 L1068.30 851.20 L1067.17 849.40 L1066.08 849.11 L1064.20 850.10 L1063.03 849.28 L1063.32 847.18 L1062.67 846.25 L1060.59 845.80 L1060.22 844.42 L1061.80 843.00 L1061.90 841.87 L1060.59 840.20 L1061.20 838.90 L1063.32 838.82 L1064.12 838.02 L1064.20 835.90 L1065.50 835.29 L1067.17 836.60 Z" fill="#fff" stroke="#666" stroke-width="0.8" stroke-linejoin="round"/>
<rect x="1058" y="833" width="7.2" height="20" fill="#e4e5e6"/>
<path d="M1065 837.3 Q1070.8 837.6 1070.8 843 Q1070.8 848.4 1065 848.7" fill="none" stroke="#777" stroke-width="0.9"/>
<rect x="1053.5" y="833.6" width="4" height="3.6" rx="0.8" fill="#f4f4f4" stroke="#555" stroke-width="0.8"/><rect x="1053.5" y="840.8" width="4" height="3.6" rx="0.8" fill="#f4f4f4" stroke="#555" stroke-width="0.8"/><rect x="1053.5" y="847.8" width="4" height="3.6" rx="0.8" fill="#f4f4f4" stroke="#555" stroke-width="0.8"/>
<path d="M1061 835.8 h2.5 M1059 843 h6 V841 M1059 849.3 h6" stroke="#2a78b8" stroke-width="1.3" fill="none"/>
<path d="M1081.2 842 H1086.8 L1084 845 Z" fill="#555"/>
<path d="M1099 839 Q1101 832 1109 832 Q1114 832 1117 836 M1117 847 Q1115 854 1107 854 Q1102 854 1099 850" fill="none" stroke="#2a7ac0" stroke-width="2.6"/><path d="M1118 831 L1119 839 L1112 837 Z M1098 855 L1097 847 L1104 849 Z" fill="#2a7ac0"/>
<path d="M1103 836.5 L1114 843 L1103 849.5 Z" fill="#111"/>
<path d="M1123.2 842 H1128.8 L1126 845 Z" fill="#555"/>
<circle cx="1149.3" cy="843" r="7.3" fill="#fff" stroke="#555" stroke-width="1"/><path d="M1147.8 839.5 L1151.3 843 L1147.8 846.5" fill="none" stroke="#222" stroke-width="1.8"/>
<path d="M1533.3 781 L1520.2 791.6 L1526.2 796.4 Z" fill="#666" opacity="0.9"/>
<rect x="0" y="862" width="1536" height="1" fill="#3b4957"/>
<rect x="1535" y="19" width="1" height="844" fill="#4b5d6e"/>
</svg></body></html>
